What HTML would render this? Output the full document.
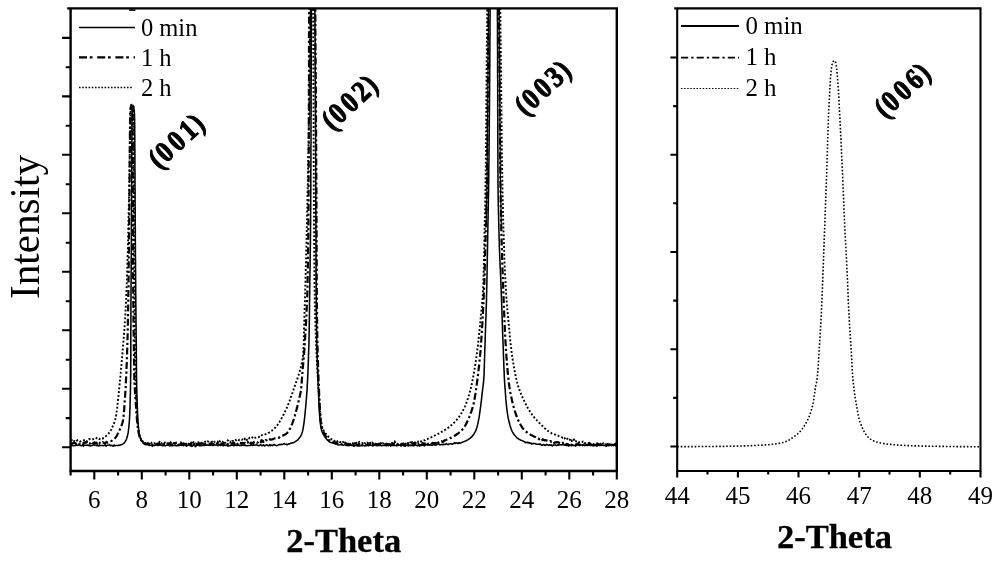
<!DOCTYPE html>
<html lang="en">
<head>
<meta charset="utf-8">
<title>XRD patterns</title>
<style>
html,body{margin:0;padding:0;background:#fff;}
body{width:1000px;height:562px;overflow:hidden;}
svg{display:block;}
</style>
</head>
<body>
<svg width="1000" height="562" viewBox="0 0 1000 562">
<defs><clipPath id="cl"><rect x="70.6" y="8.4" width="546.1999999999999" height="462.6"/></clipPath><clipPath id="cr"><rect x="677.2" y="8.4" width="303.29999999999995" height="462.6"/></clipPath><clipPath id="cu"><rect x="70.6" y="8.4" width="546.1999999999999" height="300"/></clipPath></defs>
<rect width="1000" height="562" fill="#fff"/>
<g clip-path="url(#cl)" fill="none" stroke="#000" stroke-linejoin="round">
<path d="M70.8 440.1L71.9 440.1L73.1 442.1L74.3 441.0L75.5 442.0L76.6 441.0L77.8 440.0L78.9 440.6L80.1 441.5L81.2 441.2L82.3 440.4L83.4 440.3L84.5 440.1L85.6 439.7L86.7 441.4L87.8 439.9L88.9 439.0L89.9 439.3L91.0 440.0L92.1 439.8L93.3 439.2L94.5 438.6L95.7 439.0L97.0 437.7L98.2 437.8L99.4 439.1L100.5 438.1L101.6 438.4L102.6 438.6L103.6 437.9L104.5 437.3L105.3 436.7L106.1 436.1L106.9 435.4L107.6 434.6L108.3 433.8L109.0 433.0L109.6 432.2L110.2 431.4L110.7 430.5L111.2 429.6L111.7 428.6L112.2 427.6L112.6 426.6L113.0 425.7L113.4 424.8L113.7 424.0L114.0 423.3L114.3 422.7L114.5 422.1L114.8 421.4L115.0 420.8L115.2 420.0L115.4 419.1L115.6 418.2L115.8 417.3L116.0 416.3L116.1 415.3L116.3 414.3L116.5 413.2L116.6 412.1L116.8 411.1L116.9 410.0L117.1 408.8L117.2 407.7L117.3 406.5L117.5 405.3L117.6 404.1L117.7 402.8L117.9 401.5L118.0 400.2L118.2 398.8L118.3 397.4L118.5 396.0L118.6 394.5L118.8 393.0L118.9 391.5L119.1 389.9L119.2 388.3L119.4 386.7L119.5 385.1L119.7 383.4L119.9 381.8L120.0 380.1L120.2 378.3L120.4 376.6L120.5 374.8L120.7 373.0L120.9 371.2L121.0 369.3L121.2 367.5L121.4 365.6L121.6 363.6L121.7 361.7L121.9 359.7L122.1 357.8L122.2 355.8L122.4 353.8L122.6 351.8L122.7 349.7L122.9 347.7L123.1 345.7L123.2 343.6L123.4 341.5L123.6 339.4L123.8 337.3L123.9 335.2L124.1 333.1L124.3 330.9L124.4 328.7L124.6 326.5L124.7 324.3L124.9 322.0L125.1 319.8L125.2 317.5L125.3 315.1L125.5 312.8L125.6 310.4L125.7 308.0L125.8 305.5L126.0 303.0L126.1 300.5L126.2 297.9L126.3 295.3L126.4 292.7L126.5 290.1L126.6 287.4L126.7 284.7L126.8 282.0L126.9 279.3L127.0 276.5L127.1 273.8L127.2 271.0L127.3 268.2L127.4 265.5L127.4 262.7L127.5 259.9L127.6 257.1L127.7 254.3L127.8 251.5L127.8 248.7L127.9 245.9L128.0 243.1L128.1 240.2L128.1 237.4L128.2 234.5L128.3 231.6L128.3 228.6L128.4 225.7L128.5 222.8L128.5 219.8L128.6 216.9L128.6 213.9L128.7 211.0L128.8 208.0L128.8 205.1L128.9 202.2L128.9 199.2L129.0 196.3L129.0 193.4L129.1 190.6L129.2 187.7L129.2 184.9L129.3 182.1L129.3 179.3L129.4 176.4L129.4 173.5L129.5 170.5L129.5 167.5L129.6 164.5L129.6 161.5L129.7 158.4L129.7 155.4L129.8 152.4L129.8 149.4L129.9 146.4L129.9 143.5L130.0 140.7L130.0 138.0L130.0 135.3L130.1 132.8L130.1 130.3L130.2 128.0L130.2 125.9L130.3 123.9L130.3 122.0L130.4 120.3L130.5 118.8L130.5 117.3L130.5 115.8L130.6 114.5L130.6 113.2L130.7 112.0L130.7 110.9L130.8 109.9L130.9 109.1L131.0 108.3L131.2 107.7L131.4 107.0L131.7 106.5L132.0 106.2L132.3 106.6L132.6 106.4L132.8 106.9L133.0 107.5L133.2 108.2L133.3 108.9L133.3 109.8L133.4 110.7L133.4 111.8L133.5 113.0L133.5 114.3L133.5 115.6L133.6 117.0L133.6 118.5L133.6 120.1L133.6 121.7L133.6 123.6L133.7 125.5L133.7 127.7L133.7 130.0L133.7 132.4L133.7 134.9L133.7 137.6L133.7 140.3L133.8 143.1L133.8 146.0L133.8 148.9L133.8 151.9L133.8 154.9L133.8 157.9L133.8 161.0L133.8 164.0L133.8 167.1L133.9 170.1L133.9 173.0L133.9 176.0L133.9 178.8L133.9 181.6L133.9 184.4L133.9 187.3L133.9 190.1L134.0 193.0L134.0 195.9L134.0 198.8L134.0 201.7L134.0 204.6L134.0 207.6L134.0 210.5L134.0 213.5L134.0 216.4L134.1 219.4L134.1 222.3L134.1 225.3L134.1 228.2L134.1 231.1L134.1 234.0L134.1 236.9L134.1 239.8L134.2 242.7L134.2 245.5L134.2 248.3L134.2 251.1L134.2 253.9L134.2 256.7L134.2 259.5L134.3 262.3L134.3 265.0L134.3 267.8L134.3 270.6L134.3 273.4L134.3 276.1L134.4 278.9L134.4 281.6L134.4 284.3L134.4 287.0L134.4 289.7L134.5 292.3L134.5 295.0L134.5 297.6L134.5 300.1L134.5 302.7L134.6 305.1L134.6 307.6L134.6 310.0L134.6 312.4L134.6 314.8L134.7 317.1L134.7 319.4L134.7 321.7L134.7 324.0L134.8 326.2L134.8 328.4L134.8 330.6L134.9 332.8L134.9 334.9L134.9 337.1L134.9 339.2L135.0 341.3L135.0 343.3L135.0 345.4L135.1 347.5L135.1 349.5L135.1 351.5L135.1 353.5L135.2 355.5L135.2 357.5L135.2 359.5L135.2 361.5L135.2 363.4L135.3 365.4L135.3 367.3L135.3 369.1L135.3 371.0L135.4 372.8L135.4 374.7L135.4 376.4L135.5 378.2L135.5 379.9L135.5 381.6L135.6 383.2L135.6 384.8L135.7 386.4L135.8 388.0L135.8 389.5L135.9 391.0L136.0 392.5L136.1 394.0L136.1 395.5L136.2 397.0L136.3 398.5L136.4 400.0L136.5 401.6L136.5 403.2L136.6 404.8L136.7 406.4L136.8 408.0L136.9 409.7L136.9 411.3L137.0 412.9L137.1 414.4L137.2 415.9L137.3 417.4L137.4 418.8L137.5 420.2L137.6 421.4L137.7 422.7L137.8 423.9L137.9 425.1L138.0 426.2L138.2 427.3L138.3 428.4L138.4 429.5L138.6 430.5L138.8 431.5L138.9 432.5L139.1 433.5L139.3 434.4L139.6 435.4L139.8 436.2L140.1 437.1L140.4 437.9L140.8 438.6L141.2 439.4L141.7 440.2L142.3 440.9L142.9 441.6L143.6 442.1L144.3 442.2L145.0 443.6L145.9 442.6L146.8 442.9L147.7 443.7L148.8 444.1L149.9 442.4L151.0 443.1L152.2 442.2L153.5 443.5L154.2 443.3L154.8 443.1L155.5 442.8L156.3 443.1L157.0 442.8L157.8 443.8L158.6 444.7L159.5 441.8L160.4 443.3L161.2 443.0L162.1 443.8L163.0 442.6L164.0 443.3L164.9 442.5L165.9 444.0L166.8 443.5L167.8 443.3L168.7 443.7L169.7 443.2L170.7 442.1L171.6 443.9L172.6 443.6L173.5 443.3L174.5 444.2L175.4 444.4L176.3 442.5L177.2 442.7L178.1 444.7L178.9 444.6L179.8 442.8L180.6 442.4L181.4 442.9L182.2 443.0L183.0 442.1L183.8 443.4L184.5 442.3L185.3 442.3L186.1 444.0L186.8 442.7L187.5 443.2L188.3 443.7L189.0 443.8L189.8 442.9L190.5 443.2L191.3 442.4L192.0 444.4L192.8 443.5L193.5 442.1L194.3 443.0L195.1 443.5L195.8 443.3L196.6 444.3L197.4 443.9L198.2 442.3L199.1 442.7L199.9 441.7L200.8 442.9L201.6 442.8L202.5 444.8L203.5 442.7L204.4 440.9L205.3 442.0L206.3 442.6L207.3 441.4L208.3 441.7L209.3 442.1L210.3 442.6L211.3 442.2L212.3 441.6L213.3 442.9L214.4 441.8L215.4 441.8L216.4 441.1L217.4 441.5L218.4 442.6L219.4 440.8L220.4 442.0L221.4 442.5L222.3 441.6L223.3 442.1L224.2 441.0L225.1 442.8L226.0 442.6L226.9 441.9L227.7 440.3L228.6 440.8L229.4 442.3L230.1 442.8L230.9 441.6L231.6 442.2L232.3 440.9L233.0 441.1L233.7 441.1L234.4 441.3L235.7 439.9L236.9 441.2L238.2 441.1L239.4 439.5L240.6 439.1L241.8 439.8L243.1 439.0L244.4 437.7L245.0 439.5L245.7 439.0L246.3 438.5L247.0 440.0L247.7 438.7L248.3 438.0L249.0 438.4L249.7 437.6L250.4 437.7L251.0 438.3L251.7 437.6L252.4 437.5L253.0 438.7L253.7 438.1L255.0 437.8L256.2 437.3L257.4 437.0L258.6 437.2L259.8 436.2L260.9 436.6L262.0 435.1L263.1 435.0L264.2 434.3L265.3 434.3L266.3 434.1L267.3 433.8L268.2 433.0L269.1 432.6L270.0 432.0L270.9 431.4L271.7 430.8L272.5 430.1L273.3 429.4L274.1 428.7L274.9 428.0L275.6 427.2L276.3 426.5L276.9 425.6L277.6 424.8L278.2 423.9L278.8 422.9L279.4 422.0L280.0 421.0L280.6 420.0L281.2 419.1L281.7 418.0L282.3 417.0L282.9 415.9L283.5 414.8L284.0 413.7L284.6 412.6L285.1 411.4L285.7 410.3L286.2 409.1L286.7 408.0L287.2 406.9L287.7 405.7L288.1 404.6L288.6 403.4L289.0 402.2L289.5 401.1L289.9 399.9L290.3 398.8L290.7 397.7L291.1 396.7L291.4 395.7L291.8 394.7L292.1 393.8L292.4 393.0L292.7 392.1L293.0 391.2L293.3 390.3L293.6 389.4L293.9 388.5L294.3 387.4L294.7 386.4L295.0 385.3L295.4 384.2L295.8 383.1L296.2 382.0L296.6 380.9L297.0 379.7L297.4 378.6L297.8 377.5L298.1 376.4L298.5 375.3L298.9 374.1L299.2 373.0L299.6 371.8L299.9 370.7L300.2 369.6L300.5 368.5L300.8 367.4L301.0 366.3L301.3 365.3L301.5 364.2L301.7 363.2L301.9 362.2L302.1 361.2L302.3 360.2L302.5 359.2L302.6 358.2L302.7 357.2L302.9 356.3L303.0 355.3L303.1 354.4L303.2 353.5L303.3 352.5L303.3 351.5L303.4 350.4L303.5 349.1L303.5 347.8L303.6 346.4L303.6 344.9L303.7 343.3L303.7 341.7L303.7 340.1L303.8 338.4L303.8 336.8L303.9 335.1L303.9 333.5L304.0 331.8L304.0 330.3L304.0 328.7L304.1 327.2L304.1 325.6L304.2 324.1L304.2 322.5L304.3 321.0L304.3 319.4L304.4 317.9L304.4 316.3L304.5 314.8L304.5 313.3L304.6 311.7L304.6 310.2L304.6 308.7L304.7 307.2L304.7 305.8L304.8 304.3L304.8 302.9L304.9 301.5L304.9 300.1L305.0 298.6L305.0 297.0L305.1 295.4L305.1 293.7L305.2 291.9L305.2 290.0L305.3 288.0L305.3 285.8L305.4 283.5L305.5 281.2L305.5 278.7L305.6 276.1L305.7 273.5L305.7 270.7L305.8 267.9L305.9 265.0L306.0 262.1L306.1 259.1L306.1 256.0L306.2 252.9L306.3 249.7L306.4 246.5L306.5 243.3L306.5 240.1L306.6 236.8L306.7 233.5L306.8 230.2L306.8 227.0L306.9 223.7L307.0 220.4L307.1 217.1L307.1 213.7L307.2 210.3L307.3 206.8L307.4 203.2L307.4 199.5L307.5 195.8L307.6 192.1L307.7 188.3L307.8 184.5L307.8 180.6L307.9 176.7L308.0 172.8L308.1 168.8L308.1 164.8L308.2 160.9L308.3 156.9L308.4 152.9L308.4 148.9L308.5 144.9L308.6 140.9L308.6 137.0L308.7 133.0L308.8 129.1L308.8 125.2L308.9 121.4L309.0 117.6L309.0 113.8L309.1 110.1L309.1 106.4L309.2 102.8L309.2 99.3L309.3 95.7L309.3 92.2L309.4 88.6L309.4 85.1L309.4 81.5L309.5 78.0L309.5 74.5L309.6 70.9L309.6 67.4L309.7 63.9L309.7 60.5L309.7 57.0L309.8 53.6L309.8 50.2L309.9 46.8L309.9 43.4L309.9 40.1L310.0 36.9L310.0 33.6L310.0 30.4L310.1 27.3L310.1 24.2L310.1 21.1L310.1 18.2L310.2 15.2L310.2 12.3L310.2 9.5L310.2 6.7L310.2 3.8L310.2 0.8L310.2 -2.4L310.2 -5.5L310.3 -8.8L310.3 -12.0L310.3 -15.1L310.3 -18.3L310.3 -21.3L310.3 -24.2L310.3 -26.9L310.3 -29.5L310.3 -31.8L310.3 -33.9L310.3 -35.7L310.3 -37.3L310.3 -38.4L310.4 -39.2L310.4 -39.7L310.5 -40.0L311.1 -40.1L311.8 -39.6L312.6 -40.1L312.9 -39.7L312.9 -39.5L312.9 -38.9L313.0 -37.9L313.0 -36.5L313.0 -34.9L313.0 -32.9L313.0 -30.7L313.0 -28.2L313.0 -25.6L313.0 -22.8L313.0 -19.8L313.0 -16.7L313.0 -13.6L313.1 -10.4L313.1 -7.2L313.1 -4.0L313.1 -0.8L313.1 2.3L313.1 5.3L313.1 8.1L313.1 10.9L313.1 13.7L313.1 16.7L313.1 19.6L313.2 22.6L313.2 25.7L313.2 28.8L313.2 32.0L313.2 35.2L313.2 38.5L313.2 41.8L313.3 45.1L313.3 48.5L313.3 51.8L313.3 55.3L313.3 58.7L313.3 62.2L313.3 65.7L313.4 69.2L313.4 72.7L313.4 76.2L313.4 79.7L313.4 83.3L313.4 86.8L313.5 90.4L313.5 93.9L313.5 97.5L313.5 101.0L313.5 104.6L313.5 108.2L313.5 111.9L313.6 115.7L313.6 119.5L313.6 123.3L313.6 127.2L313.6 131.1L313.6 135.0L313.6 138.9L313.7 142.9L313.7 146.9L313.7 150.9L313.7 154.9L313.7 158.8L313.7 162.8L313.8 166.8L313.8 170.8L313.8 174.7L313.8 178.6L313.8 182.5L313.8 186.4L313.8 190.2L313.9 194.0L313.9 197.7L313.9 201.4L313.9 205.0L313.9 208.5L314.0 212.0L314.0 215.4L314.0 218.8L314.0 222.0L314.0 225.3L314.0 228.5L314.1 231.7L314.1 234.8L314.1 237.9L314.1 241.0L314.2 244.1L314.2 247.1L314.2 250.1L314.2 253.1L314.2 256.0L314.3 258.9L314.3 261.8L314.3 264.7L314.3 267.5L314.4 270.2L314.4 273.0L314.4 275.7L314.5 278.4L314.5 281.0L314.5 283.6L314.5 286.1L314.6 288.7L314.6 291.1L314.7 293.6L314.7 296.0L314.7 298.5L314.8 300.8L314.8 303.2L314.9 305.5L314.9 307.8L315.0 310.1L315.1 312.3L315.1 314.5L315.2 316.6L315.2 318.7L315.3 320.8L315.4 322.8L315.4 324.8L315.5 326.7L315.5 328.6L315.6 330.4L315.7 332.2L315.7 333.8L315.8 335.5L315.8 337.0L315.9 338.6L316.0 340.1L316.0 341.6L316.1 343.0L316.1 344.5L316.2 346.0L316.3 347.5L316.3 349.0L316.4 350.5L316.5 352.0L316.5 353.6L316.6 355.1L316.7 356.7L316.8 358.2L316.8 359.8L316.9 361.3L317.0 362.9L317.1 364.4L317.2 365.9L317.2 367.5L317.3 369.0L317.4 370.6L317.5 372.1L317.6 373.7L317.7 375.3L317.8 376.9L317.9 378.5L318.0 380.0L318.1 381.6L318.2 383.2L318.2 384.7L318.3 386.2L318.4 387.7L318.5 389.2L318.6 390.6L318.7 392.1L318.8 393.4L318.9 394.8L319.0 396.1L319.1 397.5L319.1 398.8L319.2 400.1L319.3 401.4L319.4 402.7L319.5 404.0L319.6 405.3L319.7 406.7L319.8 408.1L319.9 409.5L320.0 410.9L320.1 412.3L320.2 413.7L320.3 415.0L320.5 416.4L320.6 417.6L320.7 418.9L320.9 420.0L321.0 421.1L321.2 422.2L321.4 423.2L321.6 424.2L321.8 425.2L322.0 426.1L322.2 427.0L322.5 427.9L322.8 428.7L323.1 429.4L323.5 430.2L323.9 430.9L324.3 431.6L324.8 432.3L325.2 433.0L325.7 433.7L326.3 434.4L326.8 435.1L327.4 435.8L328.1 436.5L328.7 437.1L329.4 437.7L330.1 438.3L330.8 438.8L331.5 439.2L332.3 439.8L333.1 440.2L333.9 440.1L334.8 441.0L335.7 440.9L336.6 442.2L337.5 441.1L338.4 440.7L339.4 442.1L340.4 442.0L341.4 442.2L342.5 441.1L343.7 443.0L344.9 444.0L345.5 441.4L346.2 443.8L346.9 442.5L347.6 444.8L348.4 443.3L349.2 442.9L350.0 443.9L350.9 443.5L351.7 442.6L352.6 443.7L353.5 442.7L354.4 441.7L355.3 444.9L356.2 442.9L357.2 442.7L358.1 443.5L359.0 442.0L360.0 442.2L360.9 442.9L361.9 442.9L362.8 443.4L363.7 444.3L364.7 443.0L365.6 443.8L366.5 443.9L367.4 442.6L368.2 443.7L369.1 442.7L369.9 444.4L370.7 443.9L371.5 443.5L372.3 442.4L373.2 443.7L374.0 442.9L374.8 444.2L375.6 443.5L376.4 443.0L377.2 444.4L378.0 444.3L378.7 443.2L379.5 444.6L380.3 443.5L381.1 443.5L381.9 443.8L382.6 443.1L383.4 443.4L384.1 443.6L384.9 445.0L385.7 445.0L386.4 443.6L387.1 445.1L387.9 443.8L388.6 444.1L389.3 444.5L390.0 444.0L390.7 445.9L391.4 444.0L392.1 442.8L392.8 444.9L393.4 443.4L394.1 443.5L394.7 441.3L396.0 444.7L397.3 444.5L398.6 444.5L399.8 444.6L401.1 445.2L401.8 443.8L402.4 444.6L403.1 443.2L403.8 443.5L404.5 444.7L405.2 444.1L405.9 442.7L406.6 444.0L407.3 443.5L408.0 443.0L408.7 443.8L409.5 443.2L410.2 442.3L411.0 442.5L411.7 444.2L412.4 442.1L413.2 443.0L413.9 443.0L414.7 442.9L415.4 441.7L416.2 442.0L416.9 442.1L417.6 442.3L418.3 441.4L419.0 441.0L419.7 441.9L420.4 441.7L421.1 441.2L421.8 440.6L422.4 440.9L423.7 440.4L425.0 440.2L426.2 439.1L427.4 439.0L428.6 438.4L429.8 437.7L431.0 437.4L432.1 436.8L433.3 436.2L434.5 435.7L435.7 434.9L436.9 434.5L438.1 433.9L439.3 433.3L440.5 432.7L441.7 431.8L442.9 431.2L444.1 430.5L445.2 429.8L446.4 429.1L447.4 428.3L448.5 427.5L449.5 426.7L450.5 425.9L451.5 425.1L452.5 424.2L453.4 423.3L454.4 422.4L455.3 421.4L456.1 420.5L457.0 419.5L457.8 418.5L458.5 417.5L459.3 416.5L460.0 415.4L460.7 414.3L461.4 413.2L462.0 412.1L462.7 410.9L463.3 409.8L463.9 408.6L464.4 407.5L465.0 406.3L465.5 405.2L465.9 404.0L466.4 402.8L466.8 401.7L467.3 400.5L467.7 399.3L468.1 398.1L468.4 396.9L468.8 395.7L469.2 394.5L469.5 393.3L469.8 392.1L470.2 390.9L470.5 389.7L470.8 388.6L471.0 387.4L471.3 386.3L471.6 385.0L471.9 383.8L472.2 382.5L472.4 381.1L472.7 379.6L473.0 378.0L473.3 376.4L473.7 374.7L474.0 372.9L474.3 371.0L474.6 369.1L474.9 367.1L475.2 365.1L475.5 363.1L475.8 361.1L476.1 359.1L476.4 357.1L476.7 355.1L476.9 353.1L477.2 351.2L477.4 349.3L477.7 347.4L477.9 345.5L478.1 343.6L478.3 341.7L478.5 339.9L478.7 338.0L478.9 336.1L479.1 334.2L479.3 332.3L479.5 330.4L479.7 328.5L479.9 326.6L480.1 324.7L480.3 322.8L480.4 321.0L480.6 319.1L480.8 317.2L481.0 315.4L481.2 313.6L481.3 311.8L481.5 310.0L481.7 308.2L481.9 306.4L482.0 304.6L482.2 302.7L482.3 300.9L482.5 298.9L482.6 297.0L482.8 295.0L482.9 292.9L483.0 290.8L483.1 288.5L483.2 286.2L483.3 283.8L483.4 281.3L483.4 278.8L483.5 276.2L483.6 273.5L483.7 270.8L483.8 268.1L483.8 265.3L483.9 262.5L484.0 259.6L484.0 256.8L484.1 253.9L484.2 251.1L484.2 248.3L484.3 245.4L484.3 242.6L484.4 239.9L484.4 237.2L484.5 234.5L484.6 231.9L484.6 229.3L484.7 226.8L484.7 224.4L484.8 222.0L484.8 219.6L484.9 217.3L485.0 215.0L485.0 212.7L485.1 210.4L485.1 208.1L485.2 205.9L485.2 203.5L485.2 201.2L485.3 198.8L485.3 196.4L485.4 193.9L485.4 191.4L485.5 188.8L485.5 186.1L485.6 183.3L485.6 180.4L485.6 177.4L485.7 174.3L485.7 171.0L485.8 167.6L485.8 164.0L485.8 160.4L485.9 156.6L485.9 152.8L486.0 148.9L486.0 144.9L486.0 140.8L486.1 136.7L486.1 132.6L486.1 128.4L486.2 124.2L486.2 120.0L486.2 115.8L486.3 111.6L486.3 107.4L486.3 103.2L486.4 99.1L486.4 95.1L486.4 91.1L486.5 87.1L486.5 83.3L486.5 79.5L486.6 75.9L486.6 72.3L486.6 68.9L486.7 65.6L486.7 62.5L486.7 59.5L486.7 56.6L486.8 53.7L486.8 51.0L486.8 48.3L486.8 45.7L486.9 43.1L486.9 40.6L486.9 38.1L487.0 35.7L487.0 33.3L487.0 30.9L487.0 28.5L487.1 26.2L487.1 23.9L487.1 21.5L487.1 19.2L487.1 16.8L487.2 14.5L487.2 12.1L487.2 9.7L487.2 7.2L487.2 4.6L487.2 1.8L487.2 -1.2L487.2 -4.3L487.3 -7.4L487.3 -10.6L487.3 -13.8L487.3 -17.0L487.3 -20.1L487.3 -23.1L487.3 -25.9L487.3 -28.6L487.3 -31.1L487.3 -33.3L487.3 -35.3L487.3 -36.9L487.4 -38.2L487.4 -39.1L487.4 -39.6L487.5 -39.7L488.1 -41.4L489.2 -40.8L489.9 -39.1L490.7 -38.5L491.5 -39.5L492.4 -39.1L493.3 -40.0L494.2 -40.0L495.1 -40.3L496.0 -38.9L496.8 -39.4L497.6 -39.9L498.3 -40.0L498.9 -39.2L499.8 -39.4L500.1 -39.7L500.1 -39.4L500.1 -38.7L500.2 -37.6L500.2 -36.1L500.2 -34.3L500.2 -32.2L500.2 -29.9L500.2 -27.3L500.2 -24.5L500.2 -21.6L500.2 -18.5L500.2 -15.4L500.2 -12.2L500.2 -9.0L500.2 -5.8L500.3 -2.7L500.3 0.3L500.3 3.2L500.3 5.9L500.3 8.5L500.3 10.9L500.3 13.3L500.4 15.7L500.4 18.0L500.4 20.4L500.4 22.7L500.5 25.0L500.5 27.4L500.5 29.7L500.5 32.1L500.6 34.5L500.6 36.9L500.6 39.4L500.7 41.9L500.7 44.4L500.7 47.0L500.8 49.7L500.8 52.4L500.8 55.2L500.9 58.0L500.9 61.0L500.9 64.0L501.0 67.2L501.0 70.6L501.1 74.0L501.1 77.6L501.1 81.2L501.2 85.0L501.2 88.8L501.2 92.7L501.3 96.7L501.3 100.7L501.4 104.8L501.4 108.9L501.5 113.0L501.5 117.2L501.5 121.3L501.6 125.5L501.6 129.7L501.7 133.8L501.7 137.9L501.8 142.0L501.8 146.0L501.9 150.0L501.9 153.9L502.0 157.8L502.0 161.6L502.1 165.2L502.1 168.8L502.2 172.3L502.2 175.7L502.3 178.9L502.3 182.0L502.4 185.0L502.4 188.0L502.5 190.9L502.6 193.8L502.6 196.6L502.7 199.4L502.7 202.2L502.8 204.9L502.9 207.5L502.9 210.2L503.0 212.8L503.1 215.3L503.1 217.9L503.2 220.5L503.3 223.0L503.3 225.5L503.4 228.0L503.5 230.6L503.6 233.1L503.7 235.6L503.7 238.1L503.8 240.7L503.9 243.3L504.0 245.8L504.1 248.4L504.2 251.0L504.2 253.5L504.3 256.1L504.4 258.6L504.5 261.2L504.6 263.7L504.7 266.2L504.8 268.7L504.9 271.2L505.0 273.6L505.2 276.0L505.3 278.4L505.4 280.7L505.5 283.0L505.6 285.3L505.7 287.5L505.9 289.7L506.0 291.8L506.1 293.8L506.3 295.8L506.4 297.8L506.6 299.7L506.7 301.6L506.9 303.5L507.0 305.3L507.2 307.2L507.3 309.0L507.5 310.8L507.7 312.6L507.9 314.4L508.0 316.3L508.2 318.1L508.4 320.0L508.5 321.9L508.7 323.8L508.9 325.7L509.1 327.6L509.2 329.5L509.4 331.3L509.6 333.2L509.7 335.1L509.9 337.0L510.1 338.9L510.3 340.8L510.5 342.7L510.7 344.6L510.9 346.5L511.2 348.3L511.4 350.2L511.6 352.1L511.9 354.1L512.2 356.1L512.5 358.2L512.8 360.2L513.1 362.3L513.5 364.3L513.8 366.4L514.2 368.4L514.5 370.3L514.9 372.2L515.2 374.0L515.6 375.8L515.9 377.4L516.3 378.9L516.6 380.3L516.9 381.6L517.2 382.8L517.5 383.8L517.8 384.9L518.1 385.9L518.4 386.9L518.8 387.8L519.1 388.9L519.5 389.9L519.9 391.1L520.3 392.2L520.8 393.4L521.3 394.7L521.8 395.9L522.4 397.1L522.9 398.4L523.5 399.6L524.1 400.8L524.6 402.0L525.2 403.2L525.8 404.3L526.4 405.4L527.0 406.5L527.6 407.6L528.2 408.7L528.8 409.7L529.5 410.8L530.1 411.8L530.8 412.8L531.5 413.8L532.2 414.8L533.0 415.8L533.8 416.8L534.6 417.8L535.4 418.8L536.3 419.7L537.1 420.7L538.0 421.6L538.9 422.5L539.8 423.4L540.6 424.2L541.5 425.1L542.4 425.9L543.2 426.8L544.0 427.6L544.9 428.4L545.8 429.2L546.7 429.9L547.6 430.7L548.6 431.3L549.6 432.0L550.6 432.6L551.7 433.3L552.8 433.9L554.0 434.0L555.2 434.6L556.4 435.4L557.7 435.5L558.9 436.1L560.2 436.3L561.5 437.0L562.2 437.5L562.8 437.9L563.5 437.7L564.2 438.8L564.8 438.1L565.5 439.7L566.2 439.0L566.9 439.0L567.6 438.7L568.3 437.9L569.0 439.3L569.8 439.6L570.5 440.7L571.2 439.3L571.9 441.1L572.7 440.2L573.4 440.8L574.1 439.3L574.9 440.9L575.6 440.8L576.3 441.5L577.1 441.3L577.8 440.8L578.5 442.1L579.3 442.1L580.0 442.2L580.7 442.6L581.4 442.7L582.1 442.2L582.9 441.5L583.6 441.6L584.3 443.4L585.0 443.1L585.7 442.8L586.4 442.6L587.2 443.0L587.9 443.1L588.6 443.0L589.3 442.8L590.0 444.8L590.8 443.6L591.5 443.2L592.2 442.8L592.9 443.2L593.7 444.3L594.4 444.4L595.1 443.8L595.9 444.0L596.6 443.8L597.3 443.2L598.1 445.1L598.8 444.4L599.5 446.1L600.3 443.6L601.0 444.1L601.7 444.9L602.5 444.1L603.2 443.2L604.0 443.5L604.7 444.4L605.5 444.6L606.2 444.3L607.0 445.2L607.7 445.2L608.5 444.7L609.2 444.4L610.0 444.2L610.7 444.9L611.5 445.2L612.2 444.5L613.0 444.9L613.8 444.2L614.5 443.3L615.3 443.7L616.0 445.1L616.8 444.9" stroke-width="1.9" stroke-dasharray="1.9 2.0"/>
<path d="M488.6 0L488.1 60L487.1 180L486.2 225M499.0 0L499.4 60L500.4 180L501.3 225M310.5 0L310.2 60L309.8 120" stroke-width="1.2"/>
<path d="M70.8 443.6L71.6 443.8L72.4 443.4L73.3 443.0L74.1 443.3L74.9 442.9L75.8 443.6L76.6 444.5L77.4 443.2L78.2 443.1L79.0 443.9L79.8 443.8L80.6 443.6L81.4 442.9L82.2 443.5L83.0 444.0L83.8 442.6L84.6 443.2L85.3 442.2L86.1 442.6L86.9 442.2L87.6 443.3L88.4 442.6L89.1 443.6L89.9 443.5L90.6 443.3L91.4 441.7L92.1 443.0L92.9 443.3L93.6 443.4L94.3 442.3L95.1 443.0L95.8 442.6L96.5 442.7L97.2 443.9L97.9 442.7L98.7 443.1L99.3 443.7L100.0 442.7L100.7 443.0L101.4 443.1L102.1 443.0L102.7 442.2L104.0 442.9L105.2 443.5L106.4 441.8L107.6 442.6L108.8 441.9L110.0 441.3L111.1 441.1L112.2 440.4L113.1 439.7L114.0 439.1L114.7 438.5L115.4 437.8L116.1 436.9L116.7 436.0L117.2 435.0L117.7 433.9L118.3 432.9L118.7 431.8L119.2 430.7L119.7 429.7L120.2 428.6L120.7 427.6L121.2 426.5L121.6 425.4L122.0 424.2L122.4 423.0L122.7 421.8L123.0 420.5L123.2 419.1L123.4 417.7L123.6 416.2L123.7 414.6L123.9 412.9L124.0 411.3L124.2 409.6L124.3 407.9L124.4 406.1L124.5 404.4L124.6 402.7L124.7 401.1L124.9 399.4L125.0 397.8L125.1 396.3L125.2 394.7L125.3 393.1L125.4 391.5L125.5 390.0L125.6 388.4L125.7 386.7L125.8 385.1L125.8 383.4L125.9 381.7L126.0 379.9L126.1 378.1L126.2 376.3L126.3 374.4L126.4 372.5L126.5 370.6L126.5 368.6L126.6 366.6L126.7 364.6L126.8 362.6L126.9 360.5L126.9 358.4L127.0 356.4L127.1 354.3L127.1 352.1L127.2 350.0L127.3 347.9L127.3 345.7L127.4 343.6L127.4 341.4L127.5 339.2L127.6 337.0L127.6 334.7L127.7 332.5L127.7 330.2L127.8 327.9L127.8 325.5L127.9 323.2L127.9 320.8L128.0 318.4L128.0 316.0L128.0 313.5L128.1 311.0L128.1 308.5L128.2 305.9L128.2 303.3L128.3 300.6L128.3 297.9L128.3 295.2L128.4 292.4L128.4 289.7L128.5 286.9L128.5 284.0L128.5 281.2L128.6 278.3L128.6 275.4L128.6 272.5L128.7 269.6L128.7 266.7L128.7 263.7L128.8 260.8L128.8 257.9L128.8 255.0L128.9 252.0L128.9 249.1L128.9 246.1L129.0 243.2L129.0 240.2L129.0 237.2L129.1 234.1L129.1 231.1L129.1 228.0L129.2 224.9L129.2 221.8L129.2 218.7L129.3 215.6L129.3 212.5L129.3 209.4L129.4 206.3L129.4 203.2L129.4 200.2L129.4 197.1L129.5 194.1L129.5 191.0L129.5 188.0L129.6 185.1L129.6 182.1L129.6 179.2L129.6 176.2L129.7 173.1L129.7 170.0L129.7 166.8L129.7 163.6L129.7 160.4L129.8 157.2L129.8 154.0L129.8 150.9L129.8 147.8L129.9 144.7L129.9 141.7L129.9 138.8L129.9 136.0L129.9 133.3L130.0 130.7L130.0 128.3L130.0 126.0L130.0 123.9L130.1 121.9L130.1 120.2L130.1 118.6L130.2 117.0L130.2 115.5L130.2 114.1L130.3 112.8L130.3 111.6L130.3 110.5L130.4 109.5L130.5 108.7L130.6 107.9L130.7 107.1L130.9 106.5L131.2 106.0L131.4 104.8L131.6 106.0L131.9 106.5L132.1 107.2L132.3 108.0L132.3 108.7L132.4 109.6L132.5 110.6L132.5 111.7L132.6 112.9L132.6 114.3L132.6 115.7L132.7 117.2L132.7 118.7L132.7 120.3L132.7 122.1L132.7 124.1L132.7 126.2L132.7 128.5L132.7 131.0L132.7 133.6L132.7 136.3L132.7 139.1L132.8 142.0L132.8 145.0L132.8 148.1L132.8 151.2L132.8 154.4L132.8 157.6L132.8 160.8L132.8 164.0L132.8 167.1L132.8 170.3L132.8 173.4L132.8 176.5L132.8 179.5L132.8 182.4L132.8 185.4L132.8 188.3L132.8 191.3L132.8 194.4L132.8 197.4L132.8 200.5L132.9 203.6L132.9 206.6L132.9 209.7L132.9 212.8L132.9 215.9L132.9 219.0L132.9 222.1L132.9 225.2L132.9 228.3L132.9 231.4L132.9 234.4L133.0 237.5L133.0 240.5L133.0 243.5L133.0 246.5L133.0 249.4L133.0 252.3L133.0 255.3L133.0 258.2L133.0 261.1L133.1 264.0L133.1 267.0L133.1 269.9L133.1 272.8L133.1 275.7L133.2 278.6L133.2 281.5L133.2 284.3L133.2 287.1L133.2 289.9L133.3 292.7L133.3 295.5L133.3 298.2L133.3 300.9L133.3 303.5L133.4 306.1L133.4 308.7L133.4 311.2L133.4 313.7L133.5 316.2L133.5 318.6L133.5 321.0L133.5 323.4L133.6 325.8L133.6 328.1L133.6 330.4L133.7 332.7L133.7 334.9L133.7 337.2L133.7 339.4L133.8 341.6L133.8 343.8L133.8 346.0L133.9 348.1L133.9 350.2L133.9 352.4L134.0 354.5L134.0 356.6L134.0 358.7L134.0 360.7L134.1 362.8L134.1 364.8L134.1 366.8L134.2 368.8L134.2 370.8L134.2 372.7L134.3 374.6L134.3 376.5L134.3 378.3L134.4 380.1L134.5 381.9L134.5 383.6L134.6 385.3L134.7 386.9L134.8 388.5L134.9 390.1L135.0 391.7L135.1 393.3L135.2 394.9L135.3 396.4L135.4 398.0L135.6 399.6L135.7 401.2L135.8 402.9L135.9 404.6L136.0 406.3L136.1 408.0L136.2 409.7L136.3 411.4L136.4 413.1L136.5 414.7L136.7 416.3L136.8 417.8L136.9 419.3L137.0 420.7L137.2 422.0L137.3 423.3L137.4 424.6L137.6 425.8L137.7 427.0L137.9 428.1L138.0 429.3L138.2 430.4L138.4 431.5L138.6 432.5L138.8 433.6L139.0 434.6L139.3 435.6L139.6 436.6L139.9 437.5L140.2 438.3L140.6 439.1L141.0 440.0L141.6 440.8L142.2 441.6L142.8 442.3L143.5 442.9L144.3 443.0L145.0 443.8L145.8 444.0L146.7 443.8L147.6 443.2L148.6 444.0L149.6 443.9L150.8 444.8L152.1 446.0L152.8 444.6L153.5 443.9L154.4 443.6L155.3 444.4L156.3 444.3L157.2 443.6L158.3 444.5L159.4 443.6L160.6 445.2L161.8 445.1L163.0 445.1L164.3 444.0L165.2 444.7L166.0 444.3L166.9 444.1L167.8 444.1L168.8 443.5L169.7 443.3L170.6 444.9L171.6 444.2L172.5 444.5L173.5 445.0L174.4 443.1L175.4 443.8L176.4 444.4L177.3 444.6L178.3 444.1L179.3 445.0L180.3 444.5L181.2 443.5L182.2 443.6L183.2 444.9L184.2 444.6L185.1 443.0L186.1 445.2L187.0 444.7L188.0 445.2L188.9 444.0L189.9 444.1L190.8 443.5L191.7 446.0L192.6 444.1L193.4 445.3L194.3 443.8L195.2 444.3L196.4 443.1L197.7 443.9L198.8 444.9L200.0 443.3L201.1 444.9L202.2 444.4L203.2 443.5L204.3 443.8L205.4 443.8L206.5 444.1L207.5 443.8L208.6 443.6L209.6 443.9L210.7 443.4L211.7 443.2L212.7 444.1L213.8 444.7L214.8 443.0L215.8 444.1L216.8 443.6L217.8 443.4L218.7 444.6L219.7 443.7L220.7 445.1L221.6 443.5L222.6 444.3L223.5 443.8L224.4 443.5L225.4 444.4L226.3 443.9L227.2 444.4L228.1 443.9L229.0 443.2L229.8 443.8L230.7 443.9L231.6 444.5L232.4 443.2L233.2 443.8L234.0 442.7L234.9 444.2L235.7 443.0L236.5 442.5L237.2 443.7L238.0 444.4L238.8 442.6L239.6 442.9L240.3 443.1L241.1 442.8L241.8 443.7L242.6 442.9L243.3 443.0L244.1 443.7L244.8 442.9L245.6 443.6L246.3 442.6L247.1 442.4L247.8 442.0L248.6 444.2L249.4 442.8L250.1 443.1L250.9 442.9L251.7 442.9L252.4 442.8L253.2 443.8L254.0 442.0L254.8 441.6L255.5 441.9L256.3 441.6L257.0 442.6L257.8 442.6L258.6 441.5L259.3 441.2L260.1 441.6L260.8 442.4L261.5 440.1L262.3 441.7L263.0 440.8L263.7 441.8L264.4 440.6L265.1 440.8L265.8 440.1L266.5 440.3L267.2 441.2L267.8 440.8L268.5 440.1L269.2 439.8L269.9 439.2L270.5 439.7L271.2 439.6L271.8 439.5L273.1 439.1L274.4 438.4L275.6 438.3L276.8 438.0L278.0 437.9L279.1 437.6L280.2 436.7L281.4 436.1L282.5 435.8L283.5 435.2L284.5 434.8L285.5 434.3L286.3 433.7L287.1 433.0L287.7 432.3L288.3 431.6L288.9 430.7L289.4 429.8L289.9 428.9L290.4 427.9L290.9 426.9L291.4 425.8L291.8 424.7L292.3 423.6L292.7 422.3L293.2 421.0L293.6 419.7L294.0 418.4L294.4 417.0L294.8 415.7L295.1 414.4L295.5 413.1L295.9 411.8L296.2 410.5L296.6 409.2L296.9 407.9L297.3 406.6L297.6 405.3L297.9 404.0L298.2 402.7L298.5 401.5L298.8 400.3L299.1 399.1L299.3 398.0L299.6 396.9L299.9 395.8L300.1 394.8L300.3 393.7L300.6 392.5L300.8 391.3L300.9 390.0L301.1 388.6L301.3 387.1L301.4 385.6L301.6 384.0L301.7 382.3L301.8 380.7L301.9 379.0L302.1 377.2L302.2 375.5L302.3 373.8L302.5 372.1L302.6 370.5L302.7 368.9L302.9 367.2L303.0 365.6L303.2 364.0L303.3 362.4L303.4 360.7L303.6 359.1L303.7 357.5L303.9 355.9L304.0 354.3L304.1 352.6L304.2 351.0L304.4 349.4L304.5 347.8L304.6 346.1L304.7 344.5L304.8 342.9L304.9 341.3L305.0 339.6L305.1 338.0L305.2 336.4L305.3 334.8L305.4 333.2L305.5 331.5L305.6 329.9L305.7 328.3L305.8 326.7L305.9 325.0L306.0 323.4L306.1 321.8L306.1 320.2L306.2 318.5L306.3 316.9L306.4 315.3L306.4 313.7L306.5 312.0L306.6 310.4L306.7 308.8L306.7 307.3L306.8 305.8L306.9 304.3L306.9 302.8L307.0 301.3L307.1 299.8L307.1 298.2L307.2 296.6L307.3 294.8L307.3 293.0L307.4 291.1L307.4 289.0L307.5 286.8L307.5 284.5L307.6 282.0L307.6 279.5L307.7 276.8L307.7 274.0L307.8 271.2L307.8 268.2L307.9 265.2L307.9 262.1L308.0 258.9L308.0 255.7L308.1 252.4L308.1 249.1L308.2 245.7L308.2 242.3L308.2 238.9L308.3 235.5L308.3 232.0L308.3 228.6L308.4 225.1L308.4 221.7L308.4 218.2L308.4 214.7L308.5 211.1L308.5 207.4L308.5 203.7L308.5 199.9L308.5 196.0L308.6 192.0L308.6 188.0L308.6 184.0L308.6 179.9L308.6 175.8L308.7 171.7L308.7 167.5L308.7 163.4L308.7 159.2L308.7 155.0L308.7 150.8L308.8 146.6L308.8 142.4L308.8 138.3L308.8 134.1L308.8 130.0L308.8 125.9L308.8 121.9L308.8 117.9L308.9 113.9L308.9 110.0L308.9 106.1L308.9 102.4L308.9 98.6L308.9 94.9L308.9 91.2L308.9 87.5L308.9 83.7L309.0 80.0L309.0 76.3L309.0 72.6L309.0 68.9L309.0 65.2L309.0 61.5L309.0 57.9L309.0 54.3L309.0 50.7L309.0 47.2L309.0 43.6L309.0 40.2L309.0 36.7L309.0 33.3L309.1 30.0L309.1 26.7L309.1 23.4L309.1 20.3L309.1 17.1L309.1 14.1L309.1 11.1L309.1 8.1L309.1 5.1L309.1 2.0L309.1 -1.2L309.1 -4.6L309.1 -7.9L309.1 -11.3L309.1 -14.7L309.1 -18.0L309.1 -21.1L309.1 -24.2L309.1 -27.1L309.1 -29.7L309.1 -32.2L309.2 -34.3L309.2 -36.2L309.2 -37.6L309.2 -38.8L309.2 -39.5L309.2 -39.7L309.6 -41.3L310.5 -38.8L311.7 -39.5L312.4 -38.9L313.0 -38.3L314.2 -39.7L315.0 -40.9L315.2 -39.7L315.2 -39.3L315.2 -38.5L315.2 -37.3L315.2 -35.7L315.2 -33.8L315.2 -31.6L315.3 -29.1L315.3 -26.4L315.3 -23.5L315.3 -20.4L315.3 -17.2L315.3 -13.9L315.3 -10.5L315.3 -7.1L315.3 -3.8L315.3 -0.5L315.3 2.8L315.3 5.9L315.3 8.8L315.3 11.8L315.3 14.8L315.3 17.9L315.4 21.0L315.4 24.2L315.4 27.5L315.4 30.8L315.4 34.1L315.5 37.6L315.5 41.0L315.5 44.5L315.5 48.0L315.6 51.6L315.6 55.2L315.6 58.8L315.6 62.4L315.7 66.1L315.7 69.8L315.7 73.5L315.7 77.2L315.8 80.9L315.8 84.6L315.8 88.4L315.9 92.1L315.9 95.8L315.9 99.5L315.9 103.3L315.9 107.1L316.0 110.9L316.0 114.8L316.0 118.8L316.0 122.8L316.0 126.9L316.1 131.0L316.1 135.1L316.1 139.3L316.1 143.4L316.2 147.6L316.2 151.8L316.2 156.0L316.2 160.2L316.2 164.4L316.3 168.5L316.3 172.7L316.3 176.8L316.3 180.9L316.3 185.0L316.4 189.0L316.4 193.0L316.4 196.9L316.4 200.8L316.4 204.6L316.4 208.3L316.5 212.0L316.5 215.6L316.5 219.1L316.5 222.5L316.5 225.9L316.5 229.3L316.6 232.6L316.6 235.9L316.6 239.2L316.6 242.4L316.6 245.6L316.6 248.8L316.6 251.9L316.6 255.0L316.6 258.1L316.7 261.1L316.7 264.1L316.7 267.1L316.7 270.0L316.7 272.9L316.7 275.7L316.7 278.5L316.7 281.3L316.8 284.0L316.8 286.7L316.8 289.3L316.8 291.9L316.8 294.5L316.8 297.0L316.9 299.6L316.9 302.0L316.9 304.5L316.9 306.9L317.0 309.3L317.0 311.7L317.0 314.0L317.0 316.2L317.0 318.5L317.1 320.6L317.1 322.8L317.1 324.8L317.2 326.8L317.2 328.8L317.2 330.7L317.2 332.5L317.3 334.3L317.3 336.0L317.3 337.6L317.4 339.2L317.4 340.8L317.4 342.3L317.5 343.9L317.5 345.4L317.5 347.0L317.6 348.6L317.6 350.2L317.6 351.8L317.7 353.4L317.7 355.0L317.8 356.7L317.8 358.3L317.9 359.9L317.9 361.5L318.0 363.2L318.0 364.8L318.1 366.4L318.1 368.0L318.2 369.7L318.2 371.3L318.3 372.9L318.4 374.6L318.4 376.2L318.5 377.9L318.5 379.6L318.6 381.2L318.7 382.9L318.8 384.5L318.8 386.1L318.9 387.7L319.0 389.2L319.0 390.7L319.1 392.2L319.1 393.7L319.2 395.1L319.3 396.5L319.3 397.9L319.4 399.3L319.5 400.6L319.5 402.0L319.6 403.4L319.7 404.8L319.7 406.2L319.8 407.6L319.9 409.1L320.0 410.6L320.1 412.0L320.2 413.5L320.3 414.9L320.4 416.3L320.5 417.7L320.6 419.0L320.7 420.2L320.8 421.4L321.0 422.5L321.1 423.6L321.3 424.6L321.4 425.7L321.6 426.6L321.8 427.6L322.0 428.5L322.3 429.3L322.5 430.1L322.9 430.8L323.2 431.5L323.6 432.2L323.9 433.0L324.3 433.8L324.8 434.6L325.3 435.4L325.8 436.2L326.3 436.9L326.9 437.7L327.4 438.3L328.0 439.0L328.6 439.6L329.2 440.1L329.8 440.7L330.5 441.2L331.2 441.7L332.0 441.8L332.9 441.9L333.8 443.0L334.8 442.8L335.9 442.5L337.0 443.1L338.2 444.0L339.4 444.3L340.6 443.5L341.3 444.0L342.0 444.3L342.7 443.5L343.4 444.2L344.1 443.9L344.9 443.7L345.6 443.7L346.4 444.1L347.2 444.1L348.0 443.8L348.8 443.9L349.6 445.0L350.5 444.4L351.3 444.9L352.2 445.1L353.1 444.7L353.9 445.9L354.8 443.8L355.7 444.9L356.7 444.2L357.6 445.7L358.5 445.6L359.4 443.0L360.4 443.7L361.4 444.9L362.4 445.0L363.4 444.9L364.4 444.4L365.5 444.7L366.6 444.9L367.8 444.3L368.9 445.1L370.1 442.8L371.3 444.8L372.5 443.7L373.7 445.1L374.9 444.2L376.1 443.8L377.4 444.7L378.6 443.8L379.9 443.8L381.1 443.3L382.4 444.4L383.6 444.7L384.8 445.1L386.1 444.3L387.3 445.1L388.5 444.4L389.7 444.3L390.9 444.8L392.0 445.1L393.2 444.2L394.3 444.2L395.4 444.3L396.5 444.5L397.6 443.8L398.6 445.1L399.6 444.1L400.6 444.7L401.5 443.8L402.5 444.6L403.4 444.7L404.3 444.1L405.2 445.8L406.1 444.7L407.0 445.6L407.9 445.1L408.7 443.9L409.6 444.1L410.4 444.7L411.3 444.4L412.1 444.4L412.9 444.2L413.8 443.1L414.6 444.2L415.4 442.8L416.2 444.6L417.0 443.8L417.8 443.8L418.6 444.2L419.4 444.5L420.2 443.3L421.0 443.1L421.8 443.6L422.6 442.9L423.4 443.6L424.2 445.3L425.0 443.5L425.8 444.5L426.6 443.3L427.3 444.2L428.1 443.8L428.9 443.8L429.7 444.1L430.4 444.6L431.2 443.7L431.9 443.5L432.7 442.8L433.4 443.5L434.2 443.0L434.9 443.4L435.7 442.8L436.4 443.6L437.1 441.6L437.9 442.3L438.6 442.7L439.3 442.0L440.0 441.7L440.8 441.7L441.5 441.1L442.2 441.5L442.9 442.0L443.7 441.3L444.4 440.4L445.9 440.0L447.3 439.5L448.7 439.1L450.1 438.2L451.4 437.5L452.7 436.9L453.9 436.2L455.0 435.5L456.1 434.8L457.2 434.0L458.2 433.3L459.2 432.5L460.2 431.7L461.1 430.9L462.0 430.0L462.8 429.1L463.5 428.2L464.2 427.2L464.9 426.2L465.5 425.1L466.1 424.0L466.7 422.8L467.2 421.6L467.8 420.4L468.3 419.2L468.8 418.0L469.3 416.8L469.8 415.5L470.3 414.3L470.7 413.0L471.2 411.8L471.7 410.5L472.1 409.2L472.5 407.8L472.9 406.5L473.3 405.2L473.6 403.9L473.9 402.6L474.2 401.3L474.4 400.0L474.6 398.6L474.9 397.3L475.1 395.9L475.3 394.6L475.5 393.3L475.6 392.0L475.8 390.8L476.0 389.6L476.2 388.4L476.3 387.4L476.5 386.3L476.6 385.3L476.8 384.2L476.9 383.0L477.1 381.8L477.3 380.5L477.5 379.0L477.7 377.5L477.9 375.8L478.1 374.1L478.3 372.3L478.5 370.4L478.7 368.4L479.0 366.3L479.2 364.3L479.4 362.1L479.6 359.9L479.8 357.7L480.1 355.4L480.3 353.2L480.5 350.9L480.6 348.5L480.8 346.1L481.0 343.6L481.2 341.0L481.4 338.4L481.6 335.7L481.8 332.9L481.9 330.1L482.1 327.2L482.3 324.3L482.5 321.4L482.6 318.5L482.8 315.5L483.0 312.5L483.1 309.5L483.3 306.6L483.4 303.6L483.6 300.6L483.7 297.7L483.8 294.8L483.9 291.9L484.0 289.1L484.2 286.3L484.3 283.5L484.4 280.6L484.5 277.8L484.6 274.9L484.6 272.1L484.7 269.2L484.8 266.4L484.9 263.5L485.0 260.6L485.1 257.8L485.1 255.0L485.2 252.1L485.3 249.3L485.4 246.5L485.4 243.7L485.5 240.9L485.6 238.2L485.7 235.5L485.7 232.7L485.8 230.0L485.9 227.4L485.9 224.8L486.0 222.3L486.1 219.8L486.2 217.4L486.2 215.0L486.3 212.6L486.4 210.2L486.4 207.8L486.5 205.4L486.6 202.9L486.6 200.5L486.7 197.9L486.7 195.4L486.8 192.8L486.8 190.1L486.9 187.3L486.9 184.4L487.0 181.4L487.0 178.3L487.1 175.0L487.1 171.6L487.2 168.0L487.2 164.3L487.2 160.5L487.3 156.6L487.3 152.5L487.3 148.4L487.4 144.2L487.4 139.9L487.4 135.6L487.5 131.2L487.5 126.8L487.5 122.4L487.6 118.0L487.6 113.5L487.6 109.1L487.7 104.8L487.7 100.4L487.7 96.2L487.8 91.9L487.8 87.8L487.8 83.8L487.8 79.8L487.9 76.0L487.9 72.2L487.9 68.6L488.0 65.2L488.0 61.9L488.0 58.8L488.0 55.8L488.1 52.8L488.1 50.0L488.1 47.2L488.2 44.4L488.2 41.8L488.2 39.1L488.2 36.6L488.3 34.0L488.3 31.5L488.3 29.0L488.4 26.6L488.4 24.1L488.4 21.7L488.4 19.2L488.4 16.7L488.5 14.2L488.5 11.7L488.5 9.2L488.5 6.6L488.5 3.8L488.5 0.7L488.5 -2.4L488.5 -5.7L488.6 -9.0L488.6 -12.4L488.6 -15.7L488.6 -19.0L488.6 -22.2L488.6 -25.2L488.6 -28.1L488.6 -30.7L488.6 -33.1L488.6 -35.2L488.6 -36.9L488.7 -38.3L488.7 -39.2L488.7 -39.7L488.8 -40.4L489.6 -38.3L490.8 -40.0L491.6 -40.6L492.4 -39.5L493.3 -39.4L494.1 -40.2L494.9 -39.1L495.8 -40.0L496.5 -40.3L497.2 -39.6L498.3 -39.2L498.8 -39.9L498.8 -39.5L498.8 -38.9L498.9 -37.8L498.9 -36.2L498.9 -34.4L498.9 -32.1L498.9 -29.6L498.9 -26.9L498.9 -24.0L498.9 -20.9L498.9 -17.6L498.9 -14.3L498.9 -11.0L498.9 -7.6L499.0 -4.3L499.0 -1.1L499.0 2.0L499.0 5.0L499.0 7.7L499.0 10.3L499.0 12.8L499.0 15.3L499.1 17.8L499.1 20.2L499.1 22.7L499.1 25.1L499.1 27.6L499.1 30.1L499.2 32.6L499.2 35.1L499.2 37.6L499.2 40.2L499.3 42.9L499.3 45.6L499.3 48.3L499.3 51.1L499.3 54.0L499.4 57.0L499.4 60.1L499.4 63.3L499.4 66.6L499.5 70.1L499.5 73.7L499.5 77.4L499.6 81.3L499.6 85.2L499.6 89.2L499.6 93.3L499.7 97.5L499.7 101.8L499.7 106.1L499.8 110.4L499.8 114.7L499.8 119.1L499.9 123.5L499.9 127.9L499.9 132.2L500.0 136.5L500.0 140.8L500.0 145.1L500.1 149.3L500.1 153.4L500.1 157.5L500.2 161.4L500.2 165.3L500.3 169.1L500.3 172.7L500.3 176.2L500.4 179.6L500.4 182.8L500.5 186.0L500.5 189.1L500.6 192.2L500.6 195.2L500.7 198.1L500.7 201.0L500.8 203.9L500.8 206.7L500.9 209.4L500.9 212.2L501.0 214.9L501.1 217.6L501.1 220.3L501.2 222.9L501.2 225.6L501.3 228.2L501.4 230.9L501.4 233.5L501.5 236.2L501.6 238.9L501.6 241.5L501.7 244.2L501.8 246.8L501.9 249.4L501.9 252.0L502.0 254.5L502.1 257.1L502.2 259.6L502.3 262.1L502.3 264.6L502.4 267.1L502.5 269.7L502.6 272.2L502.7 274.7L502.8 277.3L502.9 279.8L503.0 282.4L503.1 285.0L503.2 287.6L503.3 290.3L503.4 293.0L503.5 295.8L503.6 298.6L503.7 301.5L503.8 304.4L504.0 307.4L504.1 310.4L504.2 313.4L504.3 316.3L504.4 319.3L504.6 322.3L504.7 325.3L504.8 328.2L505.0 331.1L505.1 333.9L505.2 336.7L505.4 339.4L505.5 342.1L505.7 344.7L505.8 347.2L506.0 349.5L506.1 351.9L506.3 354.1L506.4 356.4L506.6 358.7L506.8 360.9L506.9 363.0L507.1 365.2L507.3 367.2L507.5 369.2L507.6 371.2L507.8 373.1L508.0 374.9L508.2 376.6L508.4 378.2L508.5 379.7L508.7 381.1L508.8 382.4L509.0 383.5L509.1 384.6L509.3 385.7L509.4 386.7L509.6 387.8L509.8 388.9L510.0 390.1L510.2 391.4L510.4 392.7L510.7 394.1L511.0 395.5L511.3 397.0L511.6 398.4L511.9 399.9L512.2 401.4L512.6 402.8L512.9 404.2L513.3 405.6L513.6 406.9L514.0 408.3L514.4 409.6L514.8 410.9L515.2 412.2L515.6 413.5L516.1 414.8L516.5 416.0L517.0 417.3L517.5 418.5L518.0 419.7L518.6 420.9L519.2 422.1L519.8 423.3L520.4 424.5L521.1 425.7L521.8 426.8L522.5 427.9L523.3 428.9L524.1 429.8L524.9 430.6L525.8 431.5L526.8 432.2L527.8 433.0L528.8 433.7L529.9 434.4L531.0 435.0L532.2 435.5L533.3 436.1L534.5 436.8L535.8 437.3L537.0 438.1L538.4 438.3L539.1 439.2L539.8 438.5L540.5 439.1L541.2 438.6L541.9 439.0L542.6 440.1L543.3 439.5L544.1 440.3L544.8 440.3L545.5 440.1L546.3 440.5L547.0 440.6L547.7 440.8L548.5 441.5L549.2 441.6L549.9 441.2L550.6 441.2L551.4 441.9L552.1 441.8L552.9 442.5L553.7 443.5L554.4 442.7L555.2 442.4L556.0 442.4L556.8 442.2L557.5 442.3L558.3 442.3L559.1 442.8L559.9 442.9L560.7 443.6L561.4 443.1L562.2 443.3L563.0 442.8L563.7 444.5L564.5 443.9L565.2 444.8L565.9 444.3L566.6 444.7L567.3 443.8L568.0 444.4L568.7 445.6L569.4 443.4L570.6 444.9L571.8 445.3L573.1 444.7L574.3 445.0L575.5 445.4L576.2 444.2L576.9 444.9L577.6 444.1L578.3 444.2L579.0 444.3L579.8 444.6L580.6 444.8L581.4 445.0L582.2 443.7L583.1 446.1L584.0 445.5L584.8 445.2L585.8 444.5L586.7 444.7L587.6 445.1L588.6 445.0L589.6 443.6L590.6 445.3L591.6 446.8L592.6 443.4L593.7 445.5L594.7 445.0L595.8 444.7L596.9 445.8L598.1 443.9L599.2 444.9L600.4 445.8L601.5 444.6L602.7 444.5L603.9 444.9L605.1 444.5L606.4 445.9L607.6 444.1L608.9 445.4L610.2 443.9L611.4 445.3L612.3 444.7L613.2 442.9L614.1 444.8L615.0 444.0L615.9 444.5L616.8 445.9" stroke-width="2.2" stroke-dasharray="7 2.6 2.2 2.6"/>
<path d="M70.8 445.9L71.8 445.3L72.9 445.6L74.0 445.8L75.1 445.7L76.1 445.1L77.2 445.2L78.2 445.4L79.3 444.9L80.3 445.5L81.3 445.7L82.3 445.1L83.3 446.1L84.3 445.2L85.3 445.2L86.3 445.2L87.3 445.0L88.2 445.5L89.2 445.3L90.1 446.0L91.1 445.5L92.0 445.5L92.9 445.2L93.8 444.7L94.8 445.3L95.6 445.0L96.5 445.7L97.4 445.3L98.3 446.0L99.2 445.6L100.0 445.6L100.9 445.4L101.8 445.4L102.6 445.6L103.5 445.7L104.4 445.0L105.3 445.5L106.1 446.3L107.0 445.3L107.9 445.2L108.7 445.0L109.5 444.7L110.4 445.7L111.2 445.3L112.0 445.4L112.7 446.0L113.5 446.2L114.2 444.9L114.9 445.7L116.1 445.5L117.3 445.4L118.2 445.4L119.1 445.1L119.8 445.4L120.5 444.9L121.2 444.7L121.8 444.6L122.4 444.2L123.0 443.8L123.6 443.3L124.2 442.9L124.7 442.3L125.1 441.8L125.5 441.2L125.8 440.5L126.2 439.8L126.5 439.0L126.8 438.2L127.0 437.4L127.3 436.6L127.5 435.7L127.7 434.8L127.9 433.8L128.1 432.9L128.2 431.9L128.4 430.9L128.5 429.8L128.6 428.8L128.8 427.7L128.9 426.6L129.0 425.4L129.1 424.3L129.2 423.0L129.3 421.8L129.4 420.5L129.5 419.1L129.6 417.7L129.6 416.1L129.7 414.6L129.8 412.9L129.8 411.3L129.9 409.6L130.0 407.9L130.0 406.2L130.1 404.5L130.1 402.8L130.2 401.2L130.2 399.5L130.3 397.9L130.3 396.4L130.3 394.8L130.4 393.2L130.4 391.7L130.4 390.1L130.5 388.5L130.5 386.9L130.5 385.3L130.6 383.6L130.6 381.9L130.6 380.2L130.6 378.4L130.6 376.5L130.7 374.7L130.7 372.8L130.7 370.9L130.7 368.9L130.7 367.0L130.7 365.0L130.7 362.9L130.8 360.9L130.8 358.9L130.8 356.8L130.8 354.7L130.8 352.6L130.8 350.5L130.8 348.4L130.8 346.2L130.8 344.1L130.8 341.9L130.8 339.7L130.8 337.5L130.8 335.3L130.8 333.1L130.8 330.8L130.9 328.5L130.9 326.2L130.9 323.9L130.9 321.5L130.9 319.2L130.9 316.7L130.9 314.3L130.9 311.8L130.9 309.3L130.9 306.8L130.9 304.2L130.9 301.6L131.0 298.9L131.0 296.2L131.0 293.5L131.0 290.8L131.0 288.0L131.0 285.2L131.1 282.4L131.1 279.5L131.1 276.6L131.1 273.8L131.2 270.9L131.2 268.0L131.2 265.1L131.2 262.2L131.2 259.3L131.3 256.3L131.3 253.4L131.3 250.5L131.3 247.6L131.3 244.7L131.4 241.7L131.4 238.7L131.4 235.7L131.4 232.7L131.4 229.6L131.4 226.6L131.5 223.5L131.5 220.4L131.5 217.4L131.5 214.3L131.5 211.2L131.5 208.1L131.6 205.1L131.6 202.0L131.6 199.0L131.6 195.9L131.6 192.9L131.6 189.9L131.7 186.9L131.7 184.0L131.7 181.1L131.7 178.1L131.7 175.1L131.7 172.1L131.8 169.0L131.8 165.8L131.8 162.6L131.8 159.5L131.8 156.3L131.8 153.1L131.8 150.0L131.8 146.9L131.8 143.9L131.9 140.9L131.9 138.1L131.9 135.3L131.9 132.6L131.9 130.1L131.9 127.7L131.9 125.5L132.0 123.4L132.0 121.5L132.0 119.8L132.0 118.2L132.1 116.7L132.1 115.3L132.1 113.9L132.2 112.6L132.2 111.5L132.3 110.4L132.3 109.4L132.4 108.6L132.5 107.8L132.6 107.0L132.8 106.3L133.0 105.8L133.2 105.6L133.4 105.8L133.6 106.3L133.8 107.0L133.9 107.8L134.0 108.6L134.1 109.5L134.2 110.4L134.3 111.5L134.4 112.7L134.4 114.0L134.5 115.4L134.5 116.8L134.6 118.3L134.6 119.9L134.6 121.6L134.7 123.5L134.7 125.6L134.7 127.8L134.7 130.2L134.7 132.8L134.8 135.4L134.8 138.2L134.8 141.1L134.8 144.0L134.8 147.1L134.9 150.2L134.9 153.3L134.9 156.4L134.9 159.6L134.9 162.8L134.9 166.0L134.9 169.1L135.0 172.2L135.0 175.3L135.0 178.3L135.0 181.2L135.0 184.1L135.0 187.1L135.1 190.1L135.1 193.1L135.1 196.1L135.1 199.1L135.1 202.2L135.1 205.2L135.2 208.3L135.2 211.4L135.2 214.4L135.2 217.5L135.2 220.6L135.2 223.7L135.3 226.7L135.3 229.8L135.3 232.8L135.3 235.9L135.3 238.9L135.3 241.9L135.4 244.8L135.4 247.8L135.4 250.7L135.4 253.6L135.4 256.5L135.5 259.4L135.5 262.3L135.5 265.2L135.5 268.1L135.6 271.0L135.6 273.9L135.6 276.8L135.6 279.7L135.7 282.5L135.7 285.3L135.7 288.1L135.7 290.9L135.7 293.7L135.8 296.4L135.8 299.1L135.8 301.7L135.8 304.3L135.9 306.9L135.9 309.5L135.9 312.0L135.9 314.4L136.0 316.9L136.0 319.3L136.0 321.7L136.0 324.0L136.1 326.4L136.1 328.7L136.1 330.9L136.1 333.2L136.1 335.4L136.2 337.7L136.2 339.9L136.2 342.0L136.2 344.2L136.3 346.4L136.3 348.5L136.3 350.6L136.3 352.7L136.3 354.8L136.4 356.9L136.4 359.0L136.4 361.0L136.4 363.1L136.4 365.1L136.4 367.1L136.5 369.0L136.5 371.0L136.5 372.9L136.5 374.8L136.5 376.6L136.6 378.5L136.6 380.2L136.6 382.0L136.7 383.7L136.7 385.4L136.7 387.0L136.8 388.6L136.8 390.2L136.8 391.8L136.9 393.3L136.9 394.9L137.0 396.4L137.0 398.0L137.1 399.6L137.1 401.2L137.2 402.9L137.2 404.6L137.3 406.2L137.4 407.9L137.4 409.6L137.5 411.3L137.5 412.9L137.6 414.6L137.7 416.1L137.8 417.7L137.8 419.1L137.9 420.5L138.0 421.9L138.1 423.2L138.2 424.5L138.3 425.7L138.4 427.0L138.5 428.1L138.6 429.3L138.7 430.4L138.9 431.5L139.0 432.6L139.2 433.6L139.4 434.6L139.7 435.6L139.9 436.6L140.2 437.5L140.5 438.4L140.9 439.2L141.3 440.1L141.7 441.0L142.3 441.9L142.9 442.7L143.5 443.4L144.2 444.0L144.8 444.3L145.5 444.7L146.2 444.8L146.9 444.7L147.7 444.5L148.6 445.1L149.6 445.4L150.8 445.2L151.5 445.1L152.3 445.0L153.1 445.6L153.9 445.3L154.9 445.4L155.8 445.0L156.9 445.1L157.9 445.4L159.1 445.0L160.2 444.9L161.4 445.2L162.6 445.8L163.9 445.4L165.2 445.9L166.1 445.3L167.0 445.2L167.9 444.8L168.8 445.1L169.8 445.9L170.7 445.5L171.6 445.7L172.6 445.7L173.6 445.4L174.5 445.3L175.5 445.4L176.5 445.7L177.5 445.6L178.5 445.6L179.5 445.5L180.5 445.1L181.5 445.3L182.5 445.0L183.6 445.8L184.6 444.6L185.6 445.3L186.6 446.3L187.6 445.3L188.6 444.9L189.6 445.4L190.6 445.9L191.6 445.3L192.6 445.6L193.6 445.4L194.5 445.3L195.5 446.7L196.5 445.4L197.4 445.2L198.4 445.2L199.3 445.6L200.2 445.6L201.2 445.7L202.1 445.5L203.1 444.8L204.1 445.6L205.1 445.3L206.0 445.3L207.1 444.8L208.1 445.2L209.1 445.1L210.2 445.4L211.3 444.8L212.3 445.4L213.4 445.4L214.5 444.9L215.6 445.1L216.7 445.0L217.8 445.7L218.9 444.4L220.0 445.2L221.2 444.7L222.3 445.2L223.4 445.7L224.6 445.1L225.7 445.4L226.9 445.0L228.0 446.1L229.1 445.7L230.3 445.8L231.4 444.8L232.6 444.9L233.7 445.8L234.8 445.3L236.0 445.2L237.1 445.5L238.2 444.8L239.4 445.6L240.5 445.3L241.6 445.5L242.7 445.0L243.8 445.5L244.9 445.0L246.0 445.7L247.0 445.7L248.1 445.6L249.2 445.5L250.2 445.5L251.2 444.2L252.2 445.6L253.2 445.1L254.2 445.3L255.2 445.1L256.2 444.7L257.1 445.0L258.1 445.5L259.0 445.8L259.9 445.0L260.8 444.8L262.1 445.8L263.3 444.8L264.5 446.0L265.7 445.2L266.8 444.8L267.9 445.5L268.8 445.8L269.8 444.5L270.7 445.7L271.6 445.0L272.5 445.6L273.3 444.9L274.1 444.4L274.9 445.2L275.7 445.3L276.4 445.7L277.1 445.5L277.9 445.1L278.5 444.7L279.2 444.6L280.5 444.6L281.8 444.3L282.9 444.4L284.1 443.5L285.2 444.3L286.2 444.2L287.1 444.9L288.0 444.2L288.9 443.7L289.7 443.9L290.6 443.2L291.5 443.2L292.4 442.8L293.4 442.8L294.3 442.2L295.3 441.6L296.2 441.0L297.1 440.3L297.9 439.6L298.5 439.0L299.1 438.3L299.7 437.6L300.2 436.8L300.7 436.0L301.2 435.2L301.6 434.3L301.9 433.4L302.2 432.4L302.5 431.4L302.8 430.3L303.0 429.1L303.2 427.9L303.4 426.7L303.6 425.5L303.8 424.2L304.0 423.0L304.2 421.7L304.3 420.5L304.5 419.2L304.6 417.8L304.8 416.5L304.9 415.1L305.0 413.7L305.2 412.3L305.3 410.9L305.4 409.5L305.6 408.0L305.7 406.6L305.8 405.1L306.0 403.5L306.1 402.0L306.2 400.4L306.4 398.9L306.5 397.3L306.6 395.7L306.7 394.1L306.9 392.5L307.0 390.9L307.1 389.4L307.2 387.8L307.2 386.2L307.3 384.6L307.4 382.9L307.5 381.3L307.6 379.7L307.7 378.1L307.7 376.5L307.8 374.8L307.9 373.2L307.9 371.6L308.0 370.0L308.1 368.4L308.1 366.8L308.2 365.1L308.3 363.5L308.3 361.9L308.4 360.3L308.4 358.7L308.5 357.1L308.5 355.5L308.6 353.8L308.6 352.2L308.7 350.6L308.7 349.0L308.8 347.5L308.8 345.9L308.9 344.4L308.9 342.8L309.0 341.3L309.0 339.8L309.0 338.2L309.1 336.6L309.1 334.9L309.1 333.2L309.2 331.4L309.2 329.5L309.2 327.6L309.3 325.6L309.3 323.6L309.3 321.5L309.4 319.4L309.4 317.2L309.4 314.9L309.4 312.7L309.5 310.4L309.5 308.0L309.5 305.6L309.5 303.2L309.6 300.7L309.6 298.2L309.6 295.7L309.7 293.2L309.7 290.6L309.7 288.0L309.8 285.4L309.8 282.7L309.8 280.0L309.9 277.2L309.9 274.4L310.0 271.6L310.0 268.7L310.1 265.8L310.1 262.8L310.1 259.8L310.2 256.8L310.2 253.7L310.3 250.6L310.3 247.5L310.4 244.3L310.4 241.1L310.4 237.9L310.5 234.7L310.5 231.4L310.5 228.0L310.6 224.7L310.6 221.3L310.6 217.9L310.6 214.4L310.7 210.8L310.7 207.1L310.7 203.4L310.7 199.6L310.7 195.7L310.8 191.8L310.8 187.9L310.8 183.8L310.8 179.8L310.8 175.7L310.8 171.6L310.9 167.5L310.9 163.3L310.9 159.2L310.9 155.0L310.9 150.9L310.9 146.7L311.0 142.5L311.0 138.4L311.0 134.3L311.0 130.2L311.0 126.1L311.0 122.1L311.0 118.1L311.1 114.2L311.1 110.3L311.1 106.5L311.1 102.7L311.1 99.0L311.1 95.3L311.1 91.6L311.1 87.9L311.2 84.2L311.2 80.5L311.2 76.8L311.2 73.1L311.2 69.5L311.2 65.8L311.2 62.2L311.2 58.6L311.2 55.0L311.3 51.4L311.3 47.9L311.3 44.4L311.3 40.9L311.3 37.5L311.3 34.1L311.3 30.8L311.3 27.5L311.3 24.2L311.4 21.1L311.4 17.9L311.4 14.9L311.4 11.9L311.4 9.0L311.4 6.0L311.4 2.9L311.4 -0.3L311.4 -3.5L311.4 -6.9L311.4 -10.2L311.4 -13.6L311.5 -16.9L311.5 -20.1L311.5 -23.1L311.5 -26.1L311.5 -28.8L311.5 -31.3L311.5 -33.5L311.5 -35.5L311.5 -37.1L311.5 -38.4L311.6 -39.2L311.6 -39.7L311.7 -40.0L312.4 -39.8L313.3 -39.0L314.1 -40.2L314.7 -39.3L314.7 -39.6L314.7 -39.0L314.8 -38.1L314.8 -36.7L314.8 -35.0L314.8 -32.9L314.8 -30.6L314.8 -28.1L314.8 -25.3L314.8 -22.3L314.8 -19.2L314.8 -16.0L314.8 -12.7L314.9 -9.3L314.9 -6.0L314.9 -2.6L314.9 0.6L314.9 3.8L314.9 6.8L314.9 9.8L314.9 12.7L314.9 15.7L315.0 18.8L315.0 21.9L315.0 25.1L315.0 28.4L315.0 31.7L315.0 35.0L315.1 38.4L315.1 41.9L315.1 45.3L315.1 48.8L315.1 52.4L315.2 56.0L315.2 59.6L315.2 63.2L315.2 66.8L315.2 70.5L315.3 74.2L315.3 77.8L315.3 81.5L315.3 85.2L315.3 88.9L315.4 92.6L315.4 96.3L315.4 100.0L315.4 103.8L315.4 107.5L315.5 111.4L315.5 115.3L315.5 119.2L315.5 123.2L315.5 127.3L315.5 131.3L315.6 135.4L315.6 139.5L315.6 143.7L315.6 147.8L315.6 152.0L315.6 156.2L315.7 160.3L315.7 164.5L315.7 168.6L315.7 172.8L315.7 176.9L315.7 180.9L315.8 185.0L315.8 189.0L315.8 192.9L315.8 196.8L315.8 200.7L315.8 204.4L315.8 208.2L315.9 211.8L315.9 215.4L315.9 218.8L315.9 222.3L315.9 225.6L315.9 229.0L315.9 232.3L316.0 235.6L316.0 238.8L316.0 242.0L316.0 245.2L316.0 248.4L316.0 251.5L316.0 254.6L316.0 257.6L316.1 260.6L316.1 263.6L316.1 266.6L316.1 269.5L316.1 272.3L316.1 275.2L316.1 278.0L316.1 280.7L316.2 283.4L316.2 286.1L316.2 288.7L316.2 291.3L316.2 293.9L316.2 296.4L316.3 298.9L316.3 301.4L316.3 303.9L316.3 306.3L316.3 308.7L316.4 311.0L316.4 313.3L316.4 315.6L316.4 317.8L316.5 320.0L316.5 322.1L316.5 324.2L316.5 326.2L316.6 328.1L316.6 330.1L316.6 331.9L316.7 333.7L316.7 335.4L316.7 337.0L316.7 338.6L316.8 340.2L316.8 341.7L316.8 343.3L316.9 344.8L316.9 346.3L316.9 347.9L317.0 349.5L317.0 351.1L317.1 352.7L317.1 354.3L317.1 355.9L317.2 357.5L317.2 359.1L317.3 360.8L317.3 362.4L317.4 364.0L317.4 365.6L317.5 367.2L317.5 368.8L317.6 370.4L317.7 372.1L317.7 373.7L317.8 375.3L317.9 377.0L317.9 378.6L318.0 380.3L318.1 381.9L318.1 383.6L318.2 385.2L318.3 386.8L318.3 388.3L318.4 389.8L318.4 391.3L318.5 392.8L318.5 394.2L318.6 395.6L318.7 397.0L318.7 398.4L318.8 399.7L318.8 401.1L318.9 402.5L318.9 403.8L319.0 405.2L319.1 406.6L319.1 408.1L319.2 409.5L319.3 411.0L319.4 412.4L319.5 413.9L319.6 415.3L319.7 416.7L319.8 418.0L319.9 419.3L320.0 420.5L320.1 421.7L320.3 422.8L320.4 423.9L320.6 425.0L320.7 426.0L320.9 427.0L321.0 427.9L321.2 428.8L321.4 429.6L321.7 430.4L321.9 431.2L322.2 431.9L322.5 432.6L322.8 433.4L323.2 434.1L323.6 434.9L324.1 435.7L324.6 436.5L325.1 437.3L325.7 438.0L326.2 438.7L326.7 439.3L327.3 439.9L327.8 440.5L328.4 441.0L329.0 441.5L329.7 442.0L330.5 442.5L331.4 442.5L332.3 442.8L333.3 443.3L334.4 443.5L335.5 444.1L336.6 444.0L337.8 444.8L338.9 444.9L340.0 444.8L341.1 444.5L342.2 445.0L343.4 445.2L344.6 444.6L345.9 445.2L346.6 445.4L347.3 445.2L348.0 445.7L348.7 445.6L349.5 444.9L350.3 445.3L351.2 444.9L352.1 445.5L353.1 444.9L354.1 445.6L355.1 445.4L356.2 445.6L357.4 445.2L358.6 444.7L359.8 446.0L361.1 445.2L361.9 445.8L362.8 445.5L363.7 445.6L364.6 446.0L365.5 445.4L366.4 445.9L367.3 444.7L368.3 445.7L369.2 445.2L370.1 445.3L371.1 445.3L372.0 445.5L373.0 446.0L374.0 444.6L374.9 445.4L375.9 445.1L376.9 445.8L377.9 445.2L378.8 445.5L379.8 445.2L380.8 445.6L381.7 445.8L382.7 445.2L383.6 445.4L384.6 444.8L385.5 445.5L386.5 445.7L387.4 445.2L388.3 445.8L389.2 444.6L390.1 444.7L391.0 444.8L391.9 445.2L393.2 445.4L394.5 445.4L395.7 445.4L396.9 445.7L398.0 445.2L399.1 444.9L400.2 444.9L401.2 446.2L402.2 444.5L403.3 445.3L404.3 446.0L405.3 445.6L406.2 445.0L407.2 445.4L408.2 445.7L409.1 445.8L410.1 445.0L411.0 445.6L411.9 445.4L412.8 445.7L413.7 445.8L414.6 445.2L415.5 444.7L416.4 445.4L417.2 445.9L418.1 445.5L418.9 445.3L419.8 446.1L420.6 444.8L421.4 445.5L422.2 444.9L423.0 445.2L423.8 445.2L424.6 445.7L425.4 444.7L426.1 444.9L426.9 444.4L427.6 445.2L428.3 444.8L429.0 445.2L429.7 444.6L430.3 444.8L431.0 445.3L431.7 444.9L432.3 445.1L433.0 445.1L433.6 444.7L434.3 444.2L434.9 445.2L435.6 444.8L436.3 445.1L437.0 444.0L437.7 444.1L438.4 443.9L439.1 444.3L439.8 445.0L440.6 444.8L441.3 444.5L442.1 444.5L442.9 444.7L443.8 444.3L444.6 444.5L445.4 444.4L446.3 443.5L447.1 444.1L448.0 444.7L448.8 444.0L449.7 444.0L450.5 443.8L451.4 443.8L452.2 444.3L453.1 443.7L453.9 443.4L454.7 442.6L455.5 443.4L456.2 442.9L457.0 442.8L457.7 443.6L458.4 443.5L459.1 442.6L459.8 443.3L460.5 443.0L461.1 442.6L461.8 442.7L463.0 441.9L464.3 441.5L465.5 441.0L466.6 440.5L467.7 439.9L468.7 439.2L469.7 438.6L470.5 437.9L471.3 437.2L472.1 436.4L472.8 435.5L473.5 434.6L474.1 433.7L474.7 432.7L475.3 431.7L475.7 430.7L476.2 429.6L476.5 428.6L476.9 427.4L477.2 426.3L477.5 425.1L477.8 423.8L478.1 422.6L478.3 421.3L478.6 420.0L478.8 418.7L479.1 417.4L479.3 416.0L479.5 414.6L479.7 413.2L479.9 411.8L480.1 410.3L480.3 408.9L480.5 407.4L480.7 406.0L480.9 404.6L481.0 403.2L481.2 401.9L481.4 400.5L481.5 399.2L481.7 397.8L481.8 396.5L482.0 395.2L482.1 393.9L482.2 392.7L482.4 391.4L482.5 390.2L482.7 389.0L482.8 387.9L483.0 386.9L483.1 385.8L483.2 384.8L483.4 383.7L483.5 382.5L483.6 381.2L483.7 379.9L483.8 378.4L483.9 376.8L484.0 375.1L484.1 373.3L484.1 371.5L484.2 369.5L484.3 367.6L484.3 365.5L484.4 363.4L484.5 361.2L484.5 359.1L484.6 356.8L484.7 354.6L484.7 352.3L484.8 350.0L484.9 347.7L485.0 345.2L485.1 342.7L485.2 340.1L485.2 337.5L485.3 334.8L485.4 332.0L485.5 329.2L485.6 326.3L485.7 323.4L485.8 320.5L485.9 317.6L486.0 314.6L486.1 311.7L486.2 308.7L486.3 305.7L486.4 302.8L486.5 299.9L486.5 297.0L486.6 294.1L486.7 291.3L486.7 288.5L486.8 285.6L486.9 282.8L486.9 280.0L487.0 277.2L487.0 274.3L487.1 271.5L487.1 268.7L487.2 265.8L487.2 263.0L487.3 260.2L487.3 257.3L487.4 254.5L487.4 251.7L487.5 248.9L487.5 246.1L487.6 243.4L487.6 240.6L487.7 237.9L487.7 235.2L487.8 232.5L487.8 229.8L487.9 227.2L487.9 224.6L488.0 222.1L488.0 219.7L488.1 217.2L488.1 214.8L488.1 212.5L488.2 210.1L488.2 207.7L488.3 205.3L488.3 202.9L488.4 200.4L488.4 197.9L488.5 195.4L488.5 192.8L488.6 190.1L488.6 187.3L488.6 184.5L488.7 181.5L488.7 178.4L488.8 175.2L488.8 171.8L488.8 168.3L488.9 164.6L488.9 160.8L489.0 156.9L489.0 152.9L489.1 148.8L489.1 144.6L489.1 140.4L489.2 136.1L489.2 131.7L489.3 127.4L489.3 123.0L489.3 118.6L489.4 114.2L489.4 109.8L489.5 105.5L489.5 101.2L489.5 96.9L489.6 92.7L489.6 88.6L489.6 84.5L489.7 80.6L489.7 76.7L489.7 73.0L489.7 69.4L489.8 66.0L489.8 62.7L489.8 59.5L489.8 56.5L489.8 53.6L489.9 50.7L489.9 47.9L489.9 45.2L489.9 42.5L489.9 39.9L489.9 37.3L490.0 34.8L490.0 32.3L490.0 29.8L490.0 27.4L490.0 24.9L490.0 22.5L490.0 20.0L490.1 17.6L490.1 15.1L490.1 12.7L490.1 10.2L490.1 7.6L490.1 4.9L490.1 1.9L490.1 -1.1L490.1 -4.3L490.1 -7.6L490.2 -11.0L490.2 -14.3L490.2 -17.6L490.2 -20.8L490.2 -23.9L490.2 -26.8L490.2 -29.5L490.2 -32.0L490.2 -34.2L490.2 -36.1L490.2 -37.7L490.3 -38.8L490.3 -39.5L490.3 -39.7L490.7 -39.7L491.7 -39.3L493.0 -39.8L493.7 -39.9L494.4 -38.8L495.0 -40.1L495.7 -39.9L496.7 -39.7L497.2 -39.9L497.2 -39.5L497.2 -38.9L497.3 -37.8L497.3 -36.3L497.3 -34.5L497.3 -32.3L497.3 -29.9L497.3 -27.2L497.3 -24.3L497.3 -21.2L497.3 -18.0L497.3 -14.7L497.4 -11.4L497.4 -8.1L497.4 -4.8L497.4 -1.6L497.4 1.5L497.4 4.5L497.4 7.3L497.4 9.8L497.4 12.3L497.4 14.8L497.4 17.3L497.4 19.7L497.5 22.2L497.5 24.6L497.5 27.0L497.5 29.5L497.5 32.0L497.5 34.5L497.5 37.0L497.5 39.6L497.5 42.2L497.5 44.8L497.6 47.5L497.6 50.3L497.6 53.2L497.6 56.1L497.6 59.1L497.6 62.2L497.6 65.5L497.6 68.9L497.6 72.5L497.6 76.1L497.7 79.9L497.7 83.8L497.7 87.8L497.7 91.8L497.7 96.0L497.7 100.1L497.7 104.4L497.7 108.7L497.7 113.0L497.8 117.3L497.8 121.7L497.8 126.0L497.8 130.3L497.8 134.7L497.8 138.9L497.8 143.2L497.8 147.4L497.9 151.5L497.9 155.6L497.9 159.6L497.9 163.4L497.9 167.2L497.9 170.9L498.0 174.5L498.0 177.9L498.0 181.2L498.0 184.4L498.1 187.5L498.1 190.5L498.1 193.5L498.2 196.5L498.2 199.4L498.3 202.2L498.3 205.1L498.4 207.8L498.4 210.6L498.5 213.3L498.6 216.0L498.6 218.7L498.7 221.3L498.8 224.0L498.8 226.6L498.9 229.2L499.0 231.8L499.0 234.5L499.1 237.1L499.2 239.8L499.3 242.4L499.3 245.1L499.4 247.6L499.5 250.2L499.6 252.8L499.7 255.3L499.8 257.8L499.9 260.3L500.0 262.8L500.1 265.3L500.2 267.8L500.4 270.3L500.5 272.8L500.6 275.3L500.7 277.9L500.8 280.4L500.9 283.0L501.0 285.6L501.1 288.2L501.2 290.8L501.3 293.6L501.4 296.3L501.5 299.2L501.6 302.0L501.7 304.9L501.8 307.9L501.9 310.8L502.0 313.8L502.1 316.8L502.2 319.7L502.3 322.7L502.4 325.6L502.5 328.5L502.6 331.4L502.7 334.2L502.8 337.0L502.9 339.7L503.0 342.3L503.1 344.9L503.2 347.3L503.3 349.7L503.4 352.0L503.4 354.3L503.5 356.5L503.6 358.7L503.7 360.9L503.8 363.1L503.8 365.2L503.9 367.3L504.0 369.3L504.1 371.2L504.2 373.1L504.2 374.8L504.3 376.5L504.4 378.1L504.5 379.7L504.5 381.1L504.6 382.3L504.7 383.5L504.8 384.6L504.8 385.6L504.9 386.6L505.0 387.7L505.1 388.8L505.2 390.0L505.3 391.3L505.4 392.7L505.5 394.2L505.6 395.7L505.7 397.3L505.8 398.9L506.0 400.5L506.1 402.1L506.3 403.6L506.4 405.2L506.6 406.7L506.7 408.1L506.9 409.5L507.1 410.8L507.3 412.2L507.5 413.5L507.7 414.8L507.9 416.1L508.1 417.4L508.4 418.6L508.6 419.9L508.9 421.1L509.2 422.3L509.5 423.5L509.8 424.7L510.1 425.9L510.5 427.0L510.8 428.1L511.2 429.2L511.7 430.3L512.1 431.3L512.7 432.3L513.3 433.3L513.9 434.3L514.6 435.2L515.4 436.1L516.2 437.0L517.0 437.8L517.9 438.5L518.9 439.1L519.9 439.7L521.0 440.3L522.1 440.6L523.4 441.3L524.7 441.9L525.4 442.7L526.0 442.3L526.7 442.4L527.4 442.3L528.1 443.0L528.8 442.5L529.5 442.8L530.2 443.3L530.9 443.0L531.6 443.9L532.3 443.9L533.0 443.5L533.7 443.6L534.4 443.4L535.1 443.5L535.8 444.1L536.5 444.3L537.3 444.3L538.0 444.3L538.7 444.1L539.4 444.5L540.2 444.0L540.9 444.5L541.7 445.1L542.5 445.1L543.2 444.5L544.0 444.6L544.8 445.3L545.6 445.5L546.4 444.3L547.2 444.8L548.1 445.0L548.9 445.4L549.7 444.7L550.6 445.3L551.5 444.9L552.4 446.0L553.3 445.2L554.2 445.0L555.1 445.0L556.1 445.5L557.0 445.4L558.0 444.7L559.0 445.2L560.0 444.6L561.0 444.9L562.0 444.7L563.0 444.7L564.0 444.9L565.0 444.8L566.0 445.4L567.1 445.5L568.1 445.1L569.1 444.8L570.2 445.6L571.2 444.5L572.3 444.5L573.3 445.6L574.4 445.5L575.4 445.7L576.5 445.2L577.5 444.8L578.6 445.1L579.6 445.5L580.6 445.0L581.7 445.0L582.7 444.7L583.8 444.8L584.8 445.6L585.9 445.5L587.0 444.8L588.0 444.8L589.1 445.1L590.2 445.5L591.2 444.8L592.3 445.2L593.4 444.4L594.5 444.8L595.6 445.5L596.7 445.6L597.7 444.8L598.8 445.0L599.9 445.6L601.0 445.1L602.2 445.1L603.3 445.5L604.4 445.4L605.5 445.7L606.6 445.6L607.7 445.1L608.8 445.2L610.0 445.3L611.1 444.7L612.2 444.9L613.4 445.7L614.5 444.6L615.7 445.7L616.8 445.4" stroke-width="1.55"/>
</g>
<g clip-path="url(#cr)" fill="none" stroke="#000">
<path d="M677.2 446.6L679.5 446.6L681.7 446.6L683.9 446.6L686.0 446.6L688.2 446.6L690.3 446.6L692.3 446.6L694.4 446.6L696.4 446.6L698.3 446.5L700.3 446.5L702.2 446.5L704.1 446.5L705.9 446.5L707.7 446.5L709.5 446.5L711.2 446.5L712.9 446.5L714.6 446.4L716.2 446.4L717.8 446.4L719.4 446.4L720.9 446.4L722.4 446.4L723.9 446.4L725.3 446.3L726.8 446.3L728.1 446.3L729.5 446.3L730.8 446.2L732.1 446.2L733.4 446.2L734.6 446.1L735.8 446.1L737.0 446.1L738.1 446.0L739.2 446.0L740.3 446.0L741.3 446.0L742.3 445.9L743.2 445.9L744.1 445.9L744.9 445.9L745.8 445.8L746.7 445.8L747.6 445.8L748.5 445.8L749.5 445.7L750.5 445.7L751.6 445.6L752.7 445.6L753.9 445.5L755.0 445.5L756.2 445.4L757.5 445.4L758.7 445.3L760.0 445.3L761.2 445.2L762.5 445.1L763.7 445.0L765.0 444.9L766.2 444.9L767.4 444.8L768.6 444.7L769.9 444.5L771.2 444.4L772.4 444.3L773.7 444.1L775.0 444.0L776.3 443.8L777.5 443.6L778.7 443.4L779.9 443.2L781.0 443.0L782.1 442.8L783.2 442.5L784.1 442.3L785.1 442.0L785.9 441.6L786.8 441.3L787.6 440.9L788.4 440.4L789.1 440.0L789.9 439.5L790.6 439.0L791.4 438.5L792.1 438.0L792.9 437.4L793.7 436.9L794.5 436.3L795.3 435.7L796.1 435.1L796.8 434.4L797.6 433.8L798.4 433.1L799.1 432.4L799.8 431.7L800.4 431.1L801.0 430.4L801.6 429.7L802.2 428.9L802.7 428.2L803.2 427.5L803.7 426.7L804.2 426.0L804.6 425.2L805.1 424.4L805.5 423.7L806.0 423.0L806.4 422.2L806.8 421.5L807.2 420.8L807.5 420.2L807.9 419.5L808.2 418.8L808.6 418.1L808.9 417.3L809.2 416.5L809.6 415.7L809.9 414.9L810.2 414.0L810.5 413.1L810.8 412.1L811.1 411.1L811.4 410.1L811.7 409.1L812.0 408.1L812.2 407.0L812.5 406.0L812.7 404.9L812.9 403.8L813.2 402.7L813.4 401.5L813.6 400.3L813.8 399.0L813.9 397.7L814.1 396.4L814.3 395.2L814.5 393.9L814.7 392.6L814.8 391.4L815.0 390.2L815.2 389.1L815.3 388.0L815.5 387.0L815.7 386.1L815.8 385.3L816.0 384.6L816.2 383.9L816.3 383.2L816.5 382.5L816.6 381.7L816.8 380.9L816.9 380.0L817.1 379.0L817.2 377.9L817.3 376.6L817.5 375.3L817.6 373.9L817.7 372.4L817.8 370.8L818.0 369.2L818.1 367.6L818.2 365.9L818.3 364.1L818.4 362.4L818.5 360.6L818.6 358.8L818.8 357.0L818.9 355.3L819.0 353.5L819.1 351.8L819.2 350.1L819.3 348.5L819.4 346.8L819.5 345.2L819.6 343.5L819.7 341.9L819.8 340.2L819.9 338.5L820.0 336.8L820.1 335.2L820.2 333.5L820.3 331.8L820.4 330.0L820.5 328.3L820.6 326.6L820.7 324.8L820.8 323.1L820.9 321.3L821.0 319.5L821.1 317.7L821.2 315.9L821.3 314.0L821.4 312.2L821.4 310.3L821.5 308.4L821.6 306.4L821.7 304.5L821.8 302.5L821.9 300.5L822.0 298.5L822.0 296.5L822.1 294.5L822.2 292.5L822.3 290.5L822.4 288.4L822.5 286.4L822.5 284.4L822.6 282.4L822.7 280.4L822.8 278.4L822.8 276.4L822.9 274.5L823.0 272.5L823.1 270.6L823.2 268.7L823.2 266.8L823.3 264.9L823.4 263.1L823.4 261.3L823.5 259.5L823.6 257.7L823.6 255.9L823.7 254.1L823.8 252.3L823.8 250.5L823.9 248.7L824.0 246.9L824.0 245.1L824.1 243.2L824.2 241.4L824.2 239.5L824.3 237.7L824.4 235.8L824.5 233.9L824.5 231.9L824.6 229.9L824.7 227.9L824.8 225.9L824.8 223.9L824.9 221.8L825.0 219.7L825.1 217.7L825.1 215.6L825.2 213.4L825.3 211.3L825.4 209.2L825.5 207.0L825.5 204.8L825.6 202.6L825.7 200.4L825.8 198.2L825.9 196.0L825.9 193.8L826.0 191.6L826.1 189.3L826.2 187.1L826.3 184.9L826.3 182.6L826.4 180.3L826.5 178.1L826.6 175.8L826.7 173.5L826.7 171.2L826.8 168.7L826.9 166.2L827.0 163.6L827.1 161.0L827.1 158.3L827.2 155.6L827.3 152.9L827.4 150.2L827.5 147.4L827.6 144.7L827.6 141.9L827.7 139.2L827.8 136.6L827.9 133.9L828.0 131.4L828.1 128.8L828.1 126.4L828.2 124.0L828.3 121.7L828.4 119.6L828.4 117.5L828.5 115.5L828.6 113.7L828.7 112.0L828.7 110.4L828.8 109.0L828.8 107.8L828.9 106.6L829.0 105.5L829.0 104.5L829.1 103.6L829.1 102.7L829.2 101.9L829.2 101.0L829.3 100.2L829.3 99.3L829.4 98.4L829.4 97.5L829.5 96.6L829.5 95.7L829.6 94.8L829.6 93.9L829.7 93.0L829.7 92.1L829.8 91.2L829.8 90.3L829.8 89.4L829.9 88.5L829.9 87.5L830.0 86.6L830.0 85.6L830.1 84.6L830.1 83.6L830.2 82.6L830.3 81.7L830.3 80.7L830.4 79.7L830.4 78.8L830.5 77.9L830.5 77.1L830.6 76.2L830.7 75.4L830.8 74.6L830.8 73.8L830.9 73.0L831.0 72.3L831.1 71.5L831.1 70.7L831.2 70.0L831.3 69.3L831.4 68.5L831.5 67.8L831.6 67.1L831.7 66.4L831.8 65.7L831.9 65.1L832.0 64.5L832.2 63.9L832.3 63.4L832.5 62.8L832.7 62.4L832.9 61.9L833.1 61.6L833.4 61.3L833.7 61.0L834.0 60.7L834.2 60.6L834.5 60.7L834.8 60.9L835.0 61.2L835.2 61.5L835.4 61.9L835.6 62.3L835.7 62.7L835.8 63.3L835.9 63.8L836.1 64.4L836.2 65.0L836.3 65.7L836.4 66.4L836.5 67.1L836.6 67.9L836.7 68.7L836.8 69.5L836.9 70.3L837.0 71.1L837.1 71.9L837.1 72.7L837.2 73.6L837.2 74.4L837.3 75.3L837.4 76.1L837.4 77.0L837.5 77.9L837.5 78.8L837.6 79.7L837.6 80.6L837.7 81.5L837.8 82.4L837.9 83.4L837.9 84.3L838.0 85.3L838.1 86.3L838.2 87.2L838.2 88.2L838.3 89.2L838.4 90.1L838.4 91.1L838.5 92.1L838.5 93.0L838.6 94.0L838.7 95.0L838.7 96.0L838.8 96.9L838.8 97.9L838.9 98.8L838.9 99.8L839.0 100.6L839.0 101.5L839.1 102.3L839.1 103.0L839.1 103.7L839.2 104.4L839.2 105.2L839.3 105.9L839.3 106.7L839.3 107.7L839.4 108.7L839.5 109.9L839.5 111.3L839.6 112.8L839.7 114.5L839.8 116.4L839.9 118.4L840.0 120.5L840.1 122.7L840.2 125.0L840.3 127.5L840.5 130.0L840.6 132.6L840.7 135.2L840.9 137.9L841.0 140.7L841.1 143.4L841.3 146.2L841.4 149.0L841.5 151.8L841.7 154.6L841.8 157.4L841.9 160.1L842.0 162.8L842.2 165.5L842.3 168.0L842.4 170.5L842.5 172.9L842.6 175.2L842.7 177.5L842.8 179.8L842.9 182.1L843.0 184.5L843.1 186.8L843.2 189.2L843.3 191.6L843.4 193.9L843.5 196.3L843.6 198.6L843.7 200.9L843.8 203.2L843.9 205.5L843.9 207.8L844.0 210.0L844.1 212.2L844.2 214.3L844.3 216.4L844.4 218.5L844.5 220.5L844.6 222.4L844.6 224.3L844.7 226.1L844.8 227.9L844.9 229.5L845.0 231.1L845.0 232.6L845.1 234.1L845.2 235.4L845.3 236.8L845.3 238.1L845.4 239.4L845.5 240.6L845.5 241.8L845.6 243.0L845.7 244.3L845.8 245.5L845.8 246.7L845.9 247.9L846.0 249.2L846.0 250.5L846.1 251.8L846.2 253.0L846.2 254.3L846.3 255.5L846.3 256.7L846.4 258.0L846.5 259.2L846.5 260.4L846.6 261.7L846.7 263.0L846.7 264.3L846.8 265.7L846.9 267.1L846.9 268.6L847.0 270.1L847.1 271.7L847.2 273.4L847.2 275.1L847.3 276.9L847.4 278.8L847.5 280.7L847.6 282.7L847.6 284.7L847.7 286.7L847.8 288.8L847.9 290.9L848.0 293.0L848.1 295.1L848.2 297.3L848.2 299.4L848.3 301.5L848.4 303.6L848.5 305.6L848.6 307.7L848.7 309.7L848.8 311.6L848.9 313.6L849.0 315.4L849.1 317.3L849.2 319.1L849.3 320.9L849.4 322.7L849.5 324.5L849.6 326.2L849.7 328.0L849.9 329.7L850.0 331.5L850.1 333.2L850.2 334.9L850.3 336.6L850.4 338.3L850.6 340.0L850.7 341.7L850.8 343.3L850.9 344.9L851.0 346.6L851.1 348.2L851.2 349.7L851.3 351.3L851.4 352.9L851.5 354.5L851.5 356.0L851.6 357.6L851.7 359.2L851.8 360.7L851.9 362.2L851.9 363.7L852.0 365.2L852.1 366.7L852.2 368.1L852.2 369.5L852.3 370.8L852.4 372.2L852.5 373.4L852.6 374.6L852.7 375.8L852.7 376.9L852.8 378.0L852.9 379.0L853.0 379.9L853.1 380.9L853.2 381.8L853.3 382.8L853.4 383.8L853.5 384.7L853.6 385.7L853.7 386.8L853.8 387.9L853.9 389.0L854.1 390.2L854.3 391.4L854.4 392.6L854.6 393.9L854.8 395.1L855.0 396.3L855.2 397.6L855.4 398.8L855.6 400.0L855.8 401.2L856.0 402.4L856.2 403.6L856.4 404.7L856.6 405.8L856.8 406.9L857.0 408.0L857.1 409.1L857.3 410.2L857.5 411.2L857.7 412.3L857.9 413.4L858.1 414.4L858.3 415.4L858.5 416.5L858.8 417.5L859.0 418.5L859.3 419.5L859.6 420.6L859.9 421.6L860.3 422.6L860.6 423.6L861.0 424.6L861.4 425.6L861.7 426.5L862.1 427.5L862.6 428.4L863.0 429.3L863.4 430.1L863.9 431.0L864.3 431.9L864.8 432.7L865.3 433.6L865.9 434.4L866.4 435.2L867.0 435.9L867.6 436.6L868.2 437.3L868.8 437.8L869.5 438.4L870.1 438.9L870.9 439.4L871.6 439.8L872.4 440.3L873.2 440.7L874.0 441.1L874.9 441.4L875.8 441.8L876.7 442.1L877.6 442.3L878.6 442.6L879.7 442.8L880.7 443.0L881.9 443.2L883.0 443.5L884.2 443.6L885.4 443.8L886.7 444.0L887.9 444.2L889.2 444.3L890.5 444.4L891.8 444.6L893.1 444.7L894.4 444.8L895.8 444.9L897.1 445.0L898.5 445.1L899.9 445.2L901.3 445.3L902.8 445.3L904.3 445.4L905.7 445.5L907.2 445.6L908.7 445.6L910.3 445.7L911.8 445.7L913.3 445.8L914.9 445.9L916.4 445.9L917.9 445.9L919.5 446.0L921.0 446.0L922.6 446.1L924.1 446.1L925.7 446.1L927.3 446.2L928.9 446.2L930.5 446.2L932.1 446.3L933.7 446.3L935.3 446.3L936.9 446.3L938.5 446.4L940.1 446.4L941.8 446.4L943.4 446.4L945.0 446.4L946.6 446.5L948.2 446.5L949.8 446.5L951.5 446.5L953.1 446.5L954.7 446.5L956.3 446.6L957.9 446.6L959.5 446.6L961.1 446.6L962.7 446.6L964.3 446.6L965.9 446.6L967.6 446.6L969.2 446.7L970.8 446.7L972.4 446.7L974.0 446.7L975.6 446.7L977.3 446.7L978.9 446.7L980.5 446.7" stroke-width="1.6" stroke-dasharray="1.6 1.9"/>
</g>
<g fill="none" stroke="#000">
<path d="M67.19999999999999 8.4H616.8V471.0H70.6V8.4" stroke-width="2.4"/>
<path d="M674.2 8.4H980.5V471.0H677.2V8.4" stroke-width="2.1"/>
</g>
<path d="M62.099999999999994 37.9H70.6M62.099999999999994 96.4H70.6M62.099999999999994 154.8H70.6M62.099999999999994 213.3H70.6M62.099999999999994 271.8H70.6M62.099999999999994 330.2H70.6M62.099999999999994 388.7H70.6M62.099999999999994 447.2H70.6M65.69999999999999 67.3H70.6M65.69999999999999 125.8H70.6M65.69999999999999 184.2H70.6M65.69999999999999 242.7H70.6M65.69999999999999 301.2H70.6M65.69999999999999 359.7H70.6M65.69999999999999 418.1H70.6M70.6 471.0V475.4M94.3 471.0V479.6M118.1 471.0V475.4M141.8 471.0V479.6M165.6 471.0V475.4M189.3 471.0V479.6M213.1 471.0V475.4M236.8 471.0V479.6M260.6 471.0V475.4M284.3 471.0V479.6M308.1 471.0V475.4M331.8 471.0V479.6M355.6 471.0V475.4M379.3 471.0V479.6M403.1 471.0V475.4M426.8 471.0V479.6M450.6 471.0V475.4M474.3 471.0V479.6M498.1 471.0V475.4M521.8 471.0V479.6M545.6 471.0V475.4M569.3 471.0V479.6M593.1 471.0V475.4M616.8 471.0V479.6M670.4000000000001 57.5H677.2M670.4000000000001 154.8H677.2M670.4000000000001 252.0H677.2M670.4000000000001 349.2H677.2M670.4000000000001 446.5H677.2M673.2 106.1H677.2M673.2 203.3H677.2M673.2 300.6H677.2M673.2 397.9H677.2M677.2 471.0V477.6M707.5 471.0V474.4M737.9 471.0V477.6M768.2 471.0V474.4M798.5 471.0V477.6M828.9 471.0V474.4M859.2 471.0V477.6M889.5 471.0V474.4M919.8 471.0V477.6M950.2 471.0V474.4M980.5 471.0V477.6" fill="none" stroke="#000" stroke-width="2.1"/>
<path d="M129.2 10.1H135.4" stroke="#000" stroke-width="1.6"/>
<g fill="none" stroke="#000">
<path d="M79 27.6H135" stroke-width="1.5"/>
<path d="M79 57.3H135" stroke-width="2.2" stroke-dasharray="8 2.8 2.7 4.7"/>
<path d="M79 87.5H133" stroke-width="1.3" stroke-dasharray="1.6 1.6"/>
<path d="M681 26.0H739" stroke-width="2"/>
<path d="M681 57.6H739" stroke-width="1.7" stroke-dasharray="7.2 3 2.3 3.1"/>
<path d="M681 88.5H739" stroke-width="1.2" stroke-dasharray="1.5 1.6"/>
</g>
<g font-family="'Liberation Serif', 'Times New Roman', serif" fill="#000">
<g font-size="24.5">
<text x="140.9" y="36.0">0 min</text>
<text x="140.9" y="65.6">1 h</text>
<text x="140.9" y="95.7">2 h</text>
<text x="745.4" y="34.0" font-size="24.9">0 min</text>
<text x="745.4" y="65.1" font-size="24.9">1 h</text>
<text x="745.4" y="96.3" font-size="24.9">2 h</text>
</g>
<g font-size="25" text-anchor="middle">
<text x="94.3" y="507.8">6</text>
<text x="141.8" y="507.8">8</text>
<text x="189.3" y="507.8">10</text>
<text x="236.8" y="507.8">12</text>
<text x="284.3" y="507.8">14</text>
<text x="331.8" y="507.8">16</text>
<text x="379.3" y="507.8">18</text>
<text x="426.8" y="507.8">20</text>
<text x="474.3" y="507.8">22</text>
<text x="521.8" y="507.8">24</text>
<text x="569.3" y="507.8">26</text>
<text x="616.8" y="507.8">28</text>
<text x="677.2" y="503.5">44</text>
<text x="737.9" y="503.5">45</text>
<text x="798.5" y="503.5">46</text>
<text x="859.2" y="503.5">47</text>
<text x="919.8" y="503.5">48</text>
<text x="980.5" y="503.5">49</text>
</g>
<g font-weight="bold" text-anchor="middle">
<text x="343.7" y="551.6" font-size="34.5" stroke="#000" stroke-width="0.3">2-Theta</text>
<text x="834.4" y="547.8" font-size="34.5" stroke="#000" stroke-width="0.3">2-Theta</text>
<text transform="translate(177.4 142.3) rotate(-43) scale(0.85 0.97)" font-size="30.4" text-anchor="start" x="-37.89 -26.54 -7.60 11.34 27.76" y="8.25" stroke="#000" stroke-width="1.1">(001)</text>
<text transform="translate(350.5 103.6) rotate(-43) scale(0.85 0.97)" font-size="30.4" text-anchor="start" x="-37.89 -26.54 -7.60 11.34 27.76" y="8.25" stroke="#000" stroke-width="1.1">(002)</text>
<text transform="translate(543.7 89.0) rotate(-43) scale(0.85 0.97)" font-size="30.4" text-anchor="start" x="-37.89 -26.54 -7.60 11.34 27.76" y="8.25" stroke="#000" stroke-width="1.1">(003)</text>
<text transform="translate(903.4 91.4) rotate(-43) scale(0.85 0.97)" font-size="30.4" text-anchor="start" x="-37.89 -26.54 -7.60 11.34 27.76" y="8.25" stroke="#000" stroke-width="1.1">(006)</text>
</g>
<text transform="translate(39.1 227) rotate(-90)" font-size="41.2" text-anchor="middle">Intensity</text>
</g>
</svg>
</body>
</html>
